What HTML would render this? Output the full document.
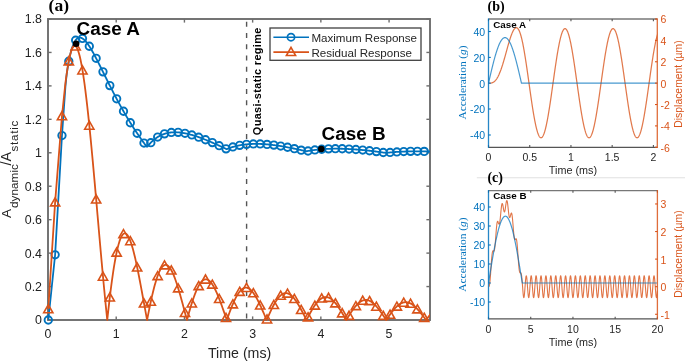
<!DOCTYPE html>
<html><head><meta charset="utf-8"><style>
html,body{margin:0;padding:0;background:#fff;}
svg{display:block;will-change:transform;font-family:"Liberation Sans", sans-serif;}
</style></head><body>
<svg width="685" height="361" viewBox="0 0 685 361">
<rect width="685" height="361" fill="#fff"/>
<defs><clipPath id="ca"><rect x="48.0" y="13.0" width="382.0" height="313.0"/></clipPath><clipPath id="cb"><rect x="488.5" y="19" width="168.8" height="128.3"/></clipPath><clipPath id="cc"><rect x="488.5" y="190.6" width="168.9" height="128.3"/></clipPath></defs>
<rect x="48.0" y="19.0" width="382.0" height="301.0" fill="none" stroke="#6e6e6e" stroke-width="1.9"/>
<line x1="48" y1="320.0" x2="48" y2="316.4" stroke="#6e6e6e" stroke-width="1.4"/>
<line x1="48" y1="19.0" x2="48" y2="22.6" stroke="#6e6e6e" stroke-width="1.4"/>
<text x="48" y="338.3" font-size="12.4" text-anchor="middle" fill="#222222">0</text>
<line x1="116.21" y1="320.0" x2="116.21" y2="316.4" stroke="#6e6e6e" stroke-width="1.4"/>
<line x1="116.21" y1="19.0" x2="116.21" y2="22.6" stroke="#6e6e6e" stroke-width="1.4"/>
<text x="116.21" y="338.3" font-size="12.4" text-anchor="middle" fill="#222222">1</text>
<line x1="184.43" y1="320.0" x2="184.43" y2="316.4" stroke="#6e6e6e" stroke-width="1.4"/>
<line x1="184.43" y1="19.0" x2="184.43" y2="22.6" stroke="#6e6e6e" stroke-width="1.4"/>
<text x="184.43" y="338.3" font-size="12.4" text-anchor="middle" fill="#222222">2</text>
<line x1="252.64" y1="320.0" x2="252.64" y2="316.4" stroke="#6e6e6e" stroke-width="1.4"/>
<line x1="252.64" y1="19.0" x2="252.64" y2="22.6" stroke="#6e6e6e" stroke-width="1.4"/>
<text x="252.64" y="338.3" font-size="12.4" text-anchor="middle" fill="#222222">3</text>
<line x1="320.86" y1="320.0" x2="320.86" y2="316.4" stroke="#6e6e6e" stroke-width="1.4"/>
<line x1="320.86" y1="19.0" x2="320.86" y2="22.6" stroke="#6e6e6e" stroke-width="1.4"/>
<text x="320.86" y="338.3" font-size="12.4" text-anchor="middle" fill="#222222">4</text>
<line x1="389.07" y1="320.0" x2="389.07" y2="316.4" stroke="#6e6e6e" stroke-width="1.4"/>
<line x1="389.07" y1="19.0" x2="389.07" y2="22.6" stroke="#6e6e6e" stroke-width="1.4"/>
<text x="389.07" y="338.3" font-size="12.4" text-anchor="middle" fill="#222222">5</text>
<line x1="48.0" y1="320" x2="51.6" y2="320" stroke="#6e6e6e" stroke-width="1.4"/>
<line x1="430.0" y1="320" x2="426.4" y2="320" stroke="#6e6e6e" stroke-width="1.4"/>
<text x="42" y="324.4" font-size="12.4" text-anchor="end" fill="#222222">0</text>
<line x1="48.0" y1="286.56" x2="51.6" y2="286.56" stroke="#6e6e6e" stroke-width="1.4"/>
<line x1="430.0" y1="286.56" x2="426.4" y2="286.56" stroke="#6e6e6e" stroke-width="1.4"/>
<text x="42" y="290.96" font-size="12.4" text-anchor="end" fill="#222222">0.2</text>
<line x1="48.0" y1="253.11" x2="51.6" y2="253.11" stroke="#6e6e6e" stroke-width="1.4"/>
<line x1="430.0" y1="253.11" x2="426.4" y2="253.11" stroke="#6e6e6e" stroke-width="1.4"/>
<text x="42" y="257.51" font-size="12.4" text-anchor="end" fill="#222222">0.4</text>
<line x1="48.0" y1="219.67" x2="51.6" y2="219.67" stroke="#6e6e6e" stroke-width="1.4"/>
<line x1="430.0" y1="219.67" x2="426.4" y2="219.67" stroke="#6e6e6e" stroke-width="1.4"/>
<text x="42" y="224.07" font-size="12.4" text-anchor="end" fill="#222222">0.6</text>
<line x1="48.0" y1="186.22" x2="51.6" y2="186.22" stroke="#6e6e6e" stroke-width="1.4"/>
<line x1="430.0" y1="186.22" x2="426.4" y2="186.22" stroke="#6e6e6e" stroke-width="1.4"/>
<text x="42" y="190.62" font-size="12.4" text-anchor="end" fill="#222222">0.8</text>
<line x1="48.0" y1="152.78" x2="51.6" y2="152.78" stroke="#6e6e6e" stroke-width="1.4"/>
<line x1="430.0" y1="152.78" x2="426.4" y2="152.78" stroke="#6e6e6e" stroke-width="1.4"/>
<text x="42" y="157.18" font-size="12.4" text-anchor="end" fill="#222222">1</text>
<line x1="48.0" y1="119.33" x2="51.6" y2="119.33" stroke="#6e6e6e" stroke-width="1.4"/>
<line x1="430.0" y1="119.33" x2="426.4" y2="119.33" stroke="#6e6e6e" stroke-width="1.4"/>
<text x="42" y="123.73" font-size="12.4" text-anchor="end" fill="#222222">1.2</text>
<line x1="48.0" y1="85.89" x2="51.6" y2="85.89" stroke="#6e6e6e" stroke-width="1.4"/>
<line x1="430.0" y1="85.89" x2="426.4" y2="85.89" stroke="#6e6e6e" stroke-width="1.4"/>
<text x="42" y="90.29" font-size="12.4" text-anchor="end" fill="#222222">1.4</text>
<line x1="48.0" y1="52.44" x2="51.6" y2="52.44" stroke="#6e6e6e" stroke-width="1.4"/>
<line x1="430.0" y1="52.44" x2="426.4" y2="52.44" stroke="#6e6e6e" stroke-width="1.4"/>
<text x="42" y="56.84" font-size="12.4" text-anchor="end" fill="#222222">1.6</text>
<line x1="48.0" y1="19" x2="51.6" y2="19" stroke="#6e6e6e" stroke-width="1.4"/>
<line x1="430.0" y1="19" x2="426.4" y2="19" stroke="#6e6e6e" stroke-width="1.4"/>
<text x="42" y="23.4" font-size="12.4" text-anchor="end" fill="#222222">1.8</text>
<line x1="246.6" y1="19.0" x2="246.6" y2="320.0" stroke="#555" stroke-width="1.4" stroke-dasharray="5 6.22" stroke-dashoffset="8.42"/>
<g clip-path="url(#ca)"><polyline fill="none" stroke="#0072BD" stroke-width="1.8" stroke-linejoin="round" points="48.3,320 55.13,254.78 61.97,135.55 65.39,86.87 66.07,79.92 66.75,73.99 67.44,69.13 68.12,65.01 68.8,61.27 69.49,57.88 70.17,54.82 70.86,52.07 71.54,49.62 72.22,47.45 72.91,45.53 73.59,43.86 74.27,42.42 74.96,41.2 75.64,40.18 76.32,39.34 77.01,38.68 77.69,38.19 78.37,37.84 79.06,37.64 79.74,37.57 80.42,37.63 81.11,37.8 81.79,38.07 82.47,38.45 83.16,38.91 83.84,39.47 84.53,40.09 85.21,40.8 85.89,41.57 86.58,42.4 87.26,43.29 87.94,44.23 88.63,45.22 89.31,46.25 89.99,47.32 90.68,48.43 91.36,49.58 92.04,50.75 92.73,51.95 93.41,53.18 94.09,54.43 94.78,55.7 95.46,56.99 96.14,58.3 96.83,59.62 97.51,60.95 98.2,62.29 98.88,63.64 99.56,65 100.25,66.37 100.93,67.74 101.61,69.11 102.3,70.49 102.98,71.87 103.66,73.25 104.35,74.63 105.03,76.01 105.71,77.39 106.4,78.77 107.08,80.14 107.76,81.51 108.45,82.87 109.13,84.24 109.81,85.59 110.5,86.95 111.18,88.29 111.87,89.63 112.55,90.96 113.23,92.29 113.92,93.61 114.6,94.92 115.28,96.23 115.97,97.52 116.65,98.81 117.33,100.09 118.02,101.36 118.7,102.63 119.38,103.88 120.07,105.13 120.75,106.37 121.43,107.6 122.12,108.82 122.8,110.03 123.48,111.23 124.17,112.42 124.85,113.6 125.54,114.78 126.22,115.94 126.9,117.1 127.59,118.24 128.27,119.38 128.95,120.51 129.64,121.63 130.32,122.74 131,123.84 131.69,124.93 132.37,126.01 133.05,127.08 133.74,128.15 134.42,129.2 135.1,130.25 135.79,131.28 136.47,132.31 137.15,133.33 137.84,134.34 138.52,135.34 139.21,136.34 139.89,137.32 140.57,138.3 141.26,139.26 141.94,140.23 142.62,141.18 143.31,142.12 143.99,143.05 144.67,143.98 145.36,144.9 146.04,145.81 146.72,146.71 147.41,146.63 148.09,145.77 148.77,144.95 149.46,144.16 150.14,143.4 150.82,142.67 151.51,141.98 152.19,141.32 152.88,140.69 153.56,140.09 154.24,139.52 154.93,138.98 155.61,138.46 156.29,137.97 156.98,137.5 157.66,137.06 158.34,136.64 159.03,136.24 159.71,135.87 160.39,135.52 161.08,135.19 161.76,134.89 162.44,134.6 163.13,134.33 163.81,134.08 164.5,133.85 165.18,133.63 165.86,133.44 166.55,133.26 167.23,133.1 167.91,132.95 168.6,132.82 169.28,132.7 169.96,132.6 170.65,132.51 171.33,132.44 172.01,132.37 172.7,132.33 173.38,132.29 174.06,132.27 174.75,132.26 175.43,132.26 176.11,132.27 176.8,132.29 177.48,132.32 178.16,132.37 178.85,132.42 179.53,132.48 180.22,132.56 180.9,132.64 181.58,132.73 182.27,132.83 182.95,132.93 183.63,133.05 184.32,133.17 185,133.3 185.68,133.44 186.37,133.58 187.05,133.73 187.73,133.89 188.42,134.06 189.1,134.22 189.78,134.4 190.47,134.58 191.15,134.77 191.83,134.97 192.52,135.16 193.2,135.37 193.89,135.58 194.57,135.79 195.25,136.01 195.94,136.23 196.62,136.46 197.3,136.69 197.99,136.93 198.67,137.17 199.35,137.41 200.04,137.66 200.72,137.91 201.4,138.17 202.09,138.42 202.77,138.69 203.45,138.95 204.14,139.22 204.82,139.49 205.5,139.76 206.19,140.03 206.87,140.31 207.56,140.59 208.24,140.88 208.92,141.16 209.61,141.45 210.29,141.74 210.97,142.03 211.66,142.33 212.34,142.62 213.02,142.92 213.71,143.22 214.39,143.52 215.07,143.83 215.76,144.13 216.44,144.44 217.12,144.74 217.81,145.05 218.49,145.36 219.18,145.67 219.86,145.98 220.54,146.3 221.23,146.61 221.91,146.93 222.59,147.25 223.28,147.56 223.96,147.88 224.64,148.2 225.33,148.52 226.01,148.84 226.69,149.1 227.38,148.83 228.06,148.57 228.74,148.32 229.43,148.07 230.11,147.83 230.79,147.6 231.48,147.38 232.16,147.17 232.84,146.97 233.53,146.77 234.21,146.58 234.9,146.4 235.58,146.23 236.26,146.06 236.95,145.9 237.63,145.75 238.31,145.61 239,145.47 239.68,145.34 240.36,145.21 241.05,145.09 241.73,144.98 242.41,144.87 243.1,144.77 243.78,144.68 244.46,144.59 245.15,144.51 245.83,144.43 246.51,144.36 247.2,144.3 247.88,144.24 248.57,144.18 249.25,144.13 249.93,144.09 250.62,144.05 251.3,144.01 251.98,143.98 252.67,143.96 253.35,143.94 254.03,143.92 254.72,143.91 255.4,143.9 256.08,143.9 256.77,143.9 257.45,143.91 258.13,143.92 258.82,143.93 259.5,143.95 260.19,143.97 260.87,144 261.55,144.02 262.24,144.05 262.92,144.09 263.6,144.13 264.29,144.17 264.97,144.22 265.65,144.27 266.34,144.32 267.02,144.38 267.7,144.44 268.39,144.5 269.07,144.56 269.75,144.63 270.44,144.71 271.12,144.78 271.8,144.85 272.49,144.93 273.17,145.02 273.85,145.1 274.54,145.19 275.22,145.28 275.91,145.37 276.59,145.46 277.27,145.57 277.96,145.66 278.64,145.76 279.32,145.87 280.01,145.97 280.69,146.08 281.37,146.19 282.06,146.3 282.74,146.42 283.42,146.54 284.11,146.65 284.79,146.77 285.47,146.9 286.16,147.02 286.84,147.14 287.52,147.27 288.21,147.41 288.89,147.53 289.58,147.66 290.26,147.8 290.94,147.94 291.63,148.07 292.31,148.21 292.99,148.36 293.68,148.5 294.36,148.64 295.04,148.79 295.73,148.93 296.41,149.08 297.09,149.23 297.78,149.38 298.46,149.53 299.14,149.68 299.83,149.83 300.51,149.99 301.19,150.15 301.88,150.3 302.56,150.46 303.25,150.63 303.93,150.78 304.61,150.94 305.3,151.11 305.98,151.27 306.66,151.25 307.35,151.12 308.03,150.99 308.71,150.87 309.4,150.76 310.08,150.65 310.76,150.53 311.45,150.43 312.13,150.33 312.81,150.23 313.5,150.14 314.18,150.04 314.87,149.95 315.55,149.87 316.23,149.79 316.92,149.71 317.6,149.63 318.28,149.56 318.97,149.5 319.65,149.44 320.33,149.37 321.02,149.31 321.7,149.25 322.38,149.2 323.07,149.15 323.75,149.1 324.43,149.06 325.12,149.02 325.8,148.97 326.48,148.94 327.17,148.91 327.85,148.88 328.53,148.84 329.22,148.82 329.9,148.8 330.59,148.77 331.27,148.75 331.95,148.74 332.64,148.73 333.32,148.71 334,148.7 334.69,148.7 335.37,148.69 336.05,148.69 336.74,148.7 337.42,148.69 338.1,148.69 338.79,148.71 339.47,148.71 340.15,148.72 340.84,148.74 341.52,148.75 342.2,148.76 342.89,148.79 343.57,148.8 344.26,148.82 344.94,148.86 345.62,148.87 346.31,148.9 346.99,148.94 347.67,148.96 348.36,149 349.04,149.03 349.72,149.07 350.41,149.11 351.09,149.15 351.77,149.19 352.46,149.24 353.14,149.28 353.82,149.33 354.51,149.37 355.19,149.42 355.88,149.48 356.56,149.52 357.24,149.58 357.93,149.63 358.61,149.69 359.29,149.75 359.98,149.8 360.66,149.87 361.34,149.93 362.03,149.99 362.71,150.06 363.39,150.12 364.08,150.2 364.76,150.26 365.44,150.33 366.13,150.4 366.81,150.47 367.49,150.55 368.18,150.62 368.86,150.7 369.55,150.77 370.23,150.85 370.91,150.93 371.6,151.01 372.28,151.09 372.96,151.17 373.65,151.26 374.33,151.34 375.01,151.43 375.7,151.51 376.38,151.6 377.06,151.69 377.75,151.78 378.43,151.87 379.11,151.96 379.8,152.05 380.48,152.14 381.16,152.24 381.85,152.33 382.53,152.43 383.22,152.52 383.9,152.62 384.58,152.71 385.27,152.82 385.95,152.88 386.63,152.8 387.32,152.74 388,152.66 388.68,152.59 389.37,152.53 390.05,152.46 390.73,152.4 391.42,152.34 392.1,152.28 392.78,152.23 393.47,152.16 394.15,152.11 394.83,152.06 395.52,152.01 396.2,151.97 396.88,151.92 397.57,151.87 398.25,151.84 398.94,151.79 399.62,151.76 400.3,151.71 400.99,151.68 401.67,151.65 402.35,151.61 403.04,151.59 403.72,151.55 404.4,151.53 405.09,151.5 405.77,151.48 406.45,151.46 407.14,151.44 407.82,151.43 408.5,151.4 409.19,151.39 409.87,151.37 410.55,151.36 411.24,151.35 411.92,151.34 412.61,151.33 413.29,151.32 413.97,151.33 414.66,151.31 415.34,151.32 416.02,151.31 416.71,151.31 417.39,151.31 418.07,151.32 418.76,151.32 419.44,151.32 420.12,151.33 420.81,151.34 421.49,151.35 422.17,151.36 422.86,151.37 423.54,151.38 424.22,151.4 424.91,151.41 425.59,151.43 426.28,151.44 426.96,151.47 427.64,151.48 428.33,151.51 429.01,151.52 429.69,151.56 430.38,151.57 431.06,151.61 431.74,151.62 432.43,151.66"/></g>
<circle cx="48.3" cy="320" r="3.7" fill="none" stroke="#0072BD" stroke-width="1.9"/>
<circle cx="55.13" cy="254.78" r="3.7" fill="none" stroke="#0072BD" stroke-width="1.9"/>
<circle cx="61.97" cy="135.55" r="3.7" fill="none" stroke="#0072BD" stroke-width="1.9"/>
<circle cx="68.8" cy="61.27" r="3.7" fill="none" stroke="#0072BD" stroke-width="1.9"/>
<circle cx="75.64" cy="40.18" r="3.7" fill="none" stroke="#0072BD" stroke-width="1.9"/>
<circle cx="82.47" cy="38.45" r="3.7" fill="none" stroke="#0072BD" stroke-width="1.9"/>
<circle cx="89.31" cy="46.25" r="3.7" fill="none" stroke="#0072BD" stroke-width="1.9"/>
<circle cx="96.14" cy="58.3" r="3.7" fill="none" stroke="#0072BD" stroke-width="1.9"/>
<circle cx="102.98" cy="71.87" r="3.7" fill="none" stroke="#0072BD" stroke-width="1.9"/>
<circle cx="109.81" cy="85.59" r="3.7" fill="none" stroke="#0072BD" stroke-width="1.9"/>
<circle cx="116.65" cy="98.81" r="3.7" fill="none" stroke="#0072BD" stroke-width="1.9"/>
<circle cx="123.48" cy="111.23" r="3.7" fill="none" stroke="#0072BD" stroke-width="1.9"/>
<circle cx="130.32" cy="122.74" r="3.7" fill="none" stroke="#0072BD" stroke-width="1.9"/>
<circle cx="137.15" cy="133.33" r="3.7" fill="none" stroke="#0072BD" stroke-width="1.9"/>
<circle cx="143.99" cy="143.05" r="3.7" fill="none" stroke="#0072BD" stroke-width="1.9"/>
<circle cx="150.82" cy="142.67" r="3.7" fill="none" stroke="#0072BD" stroke-width="1.9"/>
<circle cx="157.66" cy="137.06" r="3.7" fill="none" stroke="#0072BD" stroke-width="1.9"/>
<circle cx="164.5" cy="133.85" r="3.7" fill="none" stroke="#0072BD" stroke-width="1.9"/>
<circle cx="171.33" cy="132.44" r="3.7" fill="none" stroke="#0072BD" stroke-width="1.9"/>
<circle cx="178.16" cy="132.37" r="3.7" fill="none" stroke="#0072BD" stroke-width="1.9"/>
<circle cx="185" cy="133.3" r="3.7" fill="none" stroke="#0072BD" stroke-width="1.9"/>
<circle cx="191.83" cy="134.97" r="3.7" fill="none" stroke="#0072BD" stroke-width="1.9"/>
<circle cx="198.67" cy="137.17" r="3.7" fill="none" stroke="#0072BD" stroke-width="1.9"/>
<circle cx="205.5" cy="139.76" r="3.7" fill="none" stroke="#0072BD" stroke-width="1.9"/>
<circle cx="212.34" cy="142.62" r="3.7" fill="none" stroke="#0072BD" stroke-width="1.9"/>
<circle cx="219.18" cy="145.67" r="3.7" fill="none" stroke="#0072BD" stroke-width="1.9"/>
<circle cx="226.01" cy="148.84" r="3.7" fill="none" stroke="#0072BD" stroke-width="1.9"/>
<circle cx="232.84" cy="146.97" r="3.7" fill="none" stroke="#0072BD" stroke-width="1.9"/>
<circle cx="239.68" cy="145.34" r="3.7" fill="none" stroke="#0072BD" stroke-width="1.9"/>
<circle cx="246.51" cy="144.36" r="3.7" fill="none" stroke="#0072BD" stroke-width="1.9"/>
<circle cx="253.35" cy="143.94" r="3.7" fill="none" stroke="#0072BD" stroke-width="1.9"/>
<circle cx="260.19" cy="143.97" r="3.7" fill="none" stroke="#0072BD" stroke-width="1.9"/>
<circle cx="267.02" cy="144.38" r="3.7" fill="none" stroke="#0072BD" stroke-width="1.9"/>
<circle cx="273.85" cy="145.1" r="3.7" fill="none" stroke="#0072BD" stroke-width="1.9"/>
<circle cx="280.69" cy="146.08" r="3.7" fill="none" stroke="#0072BD" stroke-width="1.9"/>
<circle cx="287.52" cy="147.27" r="3.7" fill="none" stroke="#0072BD" stroke-width="1.9"/>
<circle cx="294.36" cy="148.64" r="3.7" fill="none" stroke="#0072BD" stroke-width="1.9"/>
<circle cx="301.19" cy="150.15" r="3.7" fill="none" stroke="#0072BD" stroke-width="1.9"/>
<circle cx="308.03" cy="150.99" r="3.7" fill="none" stroke="#0072BD" stroke-width="1.9"/>
<circle cx="314.87" cy="149.95" r="3.7" fill="none" stroke="#0072BD" stroke-width="1.9"/>
<circle cx="321.7" cy="149.25" r="3.7" fill="none" stroke="#0072BD" stroke-width="1.9"/>
<circle cx="328.53" cy="148.84" r="3.7" fill="none" stroke="#0072BD" stroke-width="1.9"/>
<circle cx="335.37" cy="148.69" r="3.7" fill="none" stroke="#0072BD" stroke-width="1.9"/>
<circle cx="342.2" cy="148.76" r="3.7" fill="none" stroke="#0072BD" stroke-width="1.9"/>
<circle cx="349.04" cy="149.03" r="3.7" fill="none" stroke="#0072BD" stroke-width="1.9"/>
<circle cx="355.88" cy="149.48" r="3.7" fill="none" stroke="#0072BD" stroke-width="1.9"/>
<circle cx="362.71" cy="150.06" r="3.7" fill="none" stroke="#0072BD" stroke-width="1.9"/>
<circle cx="369.55" cy="150.77" r="3.7" fill="none" stroke="#0072BD" stroke-width="1.9"/>
<circle cx="376.38" cy="151.6" r="3.7" fill="none" stroke="#0072BD" stroke-width="1.9"/>
<circle cx="383.22" cy="152.52" r="3.7" fill="none" stroke="#0072BD" stroke-width="1.9"/>
<circle cx="390.05" cy="152.46" r="3.7" fill="none" stroke="#0072BD" stroke-width="1.9"/>
<circle cx="396.88" cy="151.92" r="3.7" fill="none" stroke="#0072BD" stroke-width="1.9"/>
<circle cx="403.72" cy="151.55" r="3.7" fill="none" stroke="#0072BD" stroke-width="1.9"/>
<circle cx="410.55" cy="151.36" r="3.7" fill="none" stroke="#0072BD" stroke-width="1.9"/>
<circle cx="417.39" cy="151.31" r="3.7" fill="none" stroke="#0072BD" stroke-width="1.9"/>
<circle cx="424.22" cy="151.4" r="3.7" fill="none" stroke="#0072BD" stroke-width="1.9"/>
<g clip-path="url(#ca)"><polyline fill="none" stroke="#D95319" stroke-width="1.8" stroke-linejoin="round" points="48.3,308.96 55.13,202.11 61.97,115.99 65.39,83.43 66.07,78.18 66.75,73.31 67.44,68.82 68.12,64.73 68.8,61.03 69.49,57.73 70.17,54.83 70.86,52.34 71.54,50.25 72.22,48.56 72.91,47.29 73.59,46.42 74.27,45.95 74.96,45.88 75.64,46.21 76.32,46.94 77.01,48.05 77.69,49.55 78.37,51.42 79.06,53.67 79.74,56.28 80.42,59.24 81.11,62.56 81.79,66.2 82.47,70.18 83.16,74.48 83.84,79.08 84.53,83.97 85.21,89.15 85.89,94.59 86.58,100.3 87.26,106.24 87.94,112.42 88.63,118.82 89.31,125.41 89.99,132.2 90.68,139.15 91.36,146.27 92.04,153.52 92.73,160.9 93.41,168.4 94.09,175.99 94.78,183.66 95.46,191.39 96.14,199.18 96.83,206.99 97.51,214.83 98.2,222.67 98.88,230.5 99.56,238.29 100.25,246.05 100.93,253.75 101.61,261.38 102.3,268.93 102.98,276.38 103.66,283.72 104.35,290.93 105.03,298 105.71,304.93 106.4,311.7 107.08,318.29 107.26,320 107.76,315.29 108.45,309.07 109.13,303.05 109.81,297.24 110.5,291.65 111.18,286.28 111.87,281.15 112.55,276.27 113.23,271.62 113.92,267.23 114.6,263.1 115.28,259.23 115.97,255.62 116.65,252.28 117.33,249.21 118.02,246.42 118.7,243.89 119.38,241.64 120.07,239.66 120.75,237.96 121.43,236.52 122.12,235.36 122.8,234.46 123.48,233.83 124.17,233.45 124.85,233.33 125.54,233.46 126.22,233.83 126.9,234.45 127.59,235.3 128.27,236.37 128.95,237.67 129.64,239.17 130.32,240.88 131,242.79 131.69,244.88 132.37,247.15 133.05,249.59 133.74,252.18 134.42,254.93 135.1,257.82 135.79,260.83 136.47,263.97 137.15,267.21 137.84,270.55 138.52,273.97 139.21,277.48 139.89,281.04 140.57,284.67 141.26,288.33 141.94,292.03 142.62,295.75 143.31,299.49 143.99,303.22 144.67,306.95 145.36,310.65 146.04,314.33 146.72,317.97 147.11,320 147.41,318.44 148.09,314.91 148.77,311.44 149.46,308.05 150.14,304.74 150.82,301.52 151.51,298.4 152.19,295.39 152.88,292.48 153.56,289.7 154.24,287.05 154.93,284.52 155.61,282.13 156.29,279.89 156.98,277.79 157.66,275.83 158.34,274.03 159.03,272.39 159.71,270.91 160.39,269.58 161.08,268.42 161.76,267.42 162.44,266.59 163.13,265.92 163.81,265.41 164.5,265.07 165.18,264.89 165.86,264.87 166.55,265.01 167.23,265.31 167.91,265.76 168.6,266.37 169.28,267.12 169.96,268.01 170.65,269.05 171.33,270.21 172.01,271.51 172.7,272.94 173.38,274.48 174.06,276.14 174.75,277.9 175.43,279.77 176.11,281.73 176.8,283.78 177.48,285.91 178.16,288.12 178.85,290.4 179.53,292.73 180.22,295.12 180.9,297.56 181.58,300.03 182.27,302.54 182.95,305.07 183.63,307.61 184.32,310.17 185,312.73 185.68,315.28 186.37,317.82 186.96,320 187.05,319.66 187.73,317.17 188.42,314.71 189.1,312.29 189.78,309.91 190.47,307.59 191.15,305.33 191.83,303.13 192.52,301 193.2,298.95 193.89,296.98 194.57,295.09 195.25,293.3 195.94,291.6 196.62,289.99 197.3,288.49 197.99,287.1 198.67,285.81 199.35,284.63 200.04,283.57 200.72,282.62 201.4,281.79 202.09,281.07 202.77,280.48 203.45,280 204.14,279.64 204.82,279.41 205.5,279.29 206.19,279.29 206.87,279.41 207.56,279.65 208.24,280 208.92,280.46 209.61,281.03 210.29,281.72 210.97,282.5 211.66,283.39 212.34,284.37 213.02,285.45 213.71,286.62 214.39,287.88 215.07,289.22 215.76,290.64 216.44,292.13 217.12,293.69 217.81,295.31 218.49,296.99 219.18,298.72 219.86,300.5 220.54,302.32 221.23,304.18 221.91,306.07 222.59,307.98 223.28,309.92 223.96,311.87 224.64,313.82 225.33,315.78 226.01,317.73 226.69,319.68 226.81,320 227.38,318.39 228.06,316.48 228.74,314.59 229.43,312.73 230.11,310.91 230.79,309.13 231.48,307.39 232.16,305.7 232.84,304.07 233.53,302.5 234.21,300.98 234.9,299.54 235.58,298.16 236.26,296.86 236.95,295.63 237.63,294.49 238.31,293.42 239,292.44 239.68,291.55 240.36,290.75 241.05,290.03 241.73,289.41 242.41,288.88 243.1,288.44 243.78,288.1 244.46,287.86 245.15,287.71 245.83,287.65 246.51,287.69 247.2,287.82 247.88,288.04 248.57,288.35 249.25,288.75 249.93,289.24 250.62,289.82 251.3,290.48 251.98,291.22 252.67,292.04 253.35,292.93 254.03,293.9 254.72,294.93 255.4,296.03 256.08,297.2 256.77,298.42 257.45,299.69 258.13,301.02 258.82,302.39 259.5,303.8 260.19,305.25 260.87,306.74 261.55,308.25 262.24,309.79 262.92,311.35 263.6,312.92 264.29,314.5 264.97,316.09 265.65,317.68 266.34,319.26 266.65,320 267.02,319.16 267.7,317.59 268.39,316.04 269.07,314.52 269.75,313.01 270.44,311.54 271.12,310.1 271.8,308.7 272.49,307.34 273.17,306.02 273.85,304.76 274.54,303.54 275.22,302.38 275.91,301.28 276.59,300.24 277.27,299.26 277.96,298.35 278.64,297.51 279.32,296.73 280.01,296.03 280.69,295.4 281.37,294.85 282.06,294.37 282.74,293.98 283.42,293.65 284.11,293.41 284.79,293.24 285.47,293.16 286.16,293.15 286.84,293.22 287.52,293.36 288.21,293.58 288.89,293.88 289.58,294.25 290.26,294.7 290.94,295.21 291.63,295.79 292.31,296.44 292.99,297.16 293.68,297.93 294.36,298.77 295.04,299.66 295.73,300.61 296.41,301.61 297.09,302.65 297.78,303.74 298.46,304.87 299.14,306.04 299.83,307.24 300.51,308.48 301.19,309.74 301.88,311.02 302.56,312.32 303.25,313.64 303.93,314.96 304.61,316.3 305.3,317.64 305.98,318.98 306.5,320 306.66,319.69 307.35,318.36 308.03,317.05 308.71,315.75 309.4,314.47 310.08,313.21 310.76,311.98 311.45,310.78 312.13,309.61 312.81,308.48 313.5,307.39 314.18,306.34 314.87,305.33 315.55,304.37 316.23,303.47 316.92,302.61 317.6,301.81 318.28,301.07 318.97,300.38 319.65,299.76 320.33,299.19 321.02,298.69 321.7,298.26 322.38,297.89 323.07,297.58 323.75,297.34 324.43,297.17 325.12,297.07 325.8,297.03 326.48,297.06 327.17,297.15 327.85,297.32 328.53,297.54 329.22,297.83 329.9,298.18 330.59,298.6 331.27,299.07 331.95,299.6 332.64,300.19 333.32,300.84 334,301.53 334.69,302.28 335.37,303.07 336.05,303.91 336.74,304.79 337.42,305.71 338.1,306.67 338.79,307.67 339.47,308.69 340.15,309.74 340.84,310.82 341.52,311.91 342.2,313.03 342.89,314.16 343.57,315.3 344.26,316.45 344.94,317.61 345.62,318.77 346.31,319.92 346.35,320 346.99,318.93 347.67,317.78 348.36,316.65 349.04,315.54 349.72,314.44 350.41,313.36 351.09,312.31 351.77,311.29 352.46,310.29 353.14,309.33 353.82,308.4 354.51,307.51 355.19,306.66 355.88,305.85 356.56,305.09 357.24,304.37 357.93,303.71 358.61,303.09 359.29,302.52 359.98,302.01 360.66,301.55 361.34,301.15 362.03,300.8 362.71,300.51 363.39,300.28 364.08,300.11 364.76,299.99 365.44,299.94 366.13,299.94 366.81,300 367.49,300.12 368.18,300.29 368.86,300.52 369.55,300.81 370.23,301.15 370.91,301.54 371.6,301.99 372.28,302.48 372.96,303.03 373.65,303.62 374.33,304.26 375.01,304.93 375.7,305.66 376.38,306.41 377.06,307.21 377.75,308.04 378.43,308.9 379.11,309.79 379.8,310.7 380.48,311.64 381.16,312.59 381.85,313.57 382.53,314.56 383.22,315.56 383.9,316.57 384.58,317.59 385.27,318.61 385.95,319.63 386.2,320 386.63,319.36 387.32,318.35 388,317.35 388.68,316.36 389.37,315.38 390.05,314.43 390.73,313.49 391.42,312.57 392.1,311.68 392.78,310.82 393.47,309.99 394.15,309.19 394.83,308.42 395.52,307.7 396.2,307.01 396.88,306.36 397.57,305.75 398.25,305.18 398.94,304.66 399.62,304.19 400.3,303.77 400.99,303.39 401.67,303.06 402.35,302.79 403.04,302.56 403.72,302.39 404.4,302.27 405.09,302.2 405.77,302.18 406.45,302.21 407.14,302.3 407.82,302.43 408.5,302.62 409.19,302.85 409.87,303.14 410.55,303.47 411.24,303.85 411.92,304.27 412.61,304.74 413.29,305.25 413.97,305.8 414.66,306.39 415.34,307.02 416.02,307.69 416.71,308.38 417.39,309.11 418.07,309.86 418.76,310.65 419.44,311.45 420.12,312.28 420.81,313.13 421.49,314 422.17,314.88 422.86,315.77 423.54,316.67 424.22,317.57 424.91,318.48 425.59,319.39 426.05,320 426.28,319.7 426.96,318.79 427.64,317.89 428.33,317.01 429.01,316.13 429.69,315.27 430.38,314.42 431.06,313.59 431.74,312.79 432.43,312.01"/></g>
<path d="M48.3,304.66 L52.9,312.76 L43.7,312.76 Z" fill="none" stroke="#D95319" stroke-width="1.6" stroke-linejoin="miter"/>
<path d="M55.13,197.81 L59.73,205.91 L50.53,205.91 Z" fill="none" stroke="#D95319" stroke-width="1.6" stroke-linejoin="miter"/>
<path d="M61.97,111.69 L66.57,119.79 L57.37,119.79 Z" fill="none" stroke="#D95319" stroke-width="1.6" stroke-linejoin="miter"/>
<path d="M68.8,56.73 L73.4,64.83 L64.2,64.83 Z" fill="none" stroke="#D95319" stroke-width="1.6" stroke-linejoin="miter"/>
<path d="M75.64,41.91 L80.24,50.01 L71.04,50.01 Z" fill="none" stroke="#D95319" stroke-width="1.6" stroke-linejoin="miter"/>
<path d="M82.47,65.88 L87.07,73.98 L77.88,73.98 Z" fill="none" stroke="#D95319" stroke-width="1.6" stroke-linejoin="miter"/>
<path d="M89.31,121.11 L93.91,129.21 L84.71,129.21 Z" fill="none" stroke="#D95319" stroke-width="1.6" stroke-linejoin="miter"/>
<path d="M96.14,194.88 L100.74,202.98 L91.54,202.98 Z" fill="none" stroke="#D95319" stroke-width="1.6" stroke-linejoin="miter"/>
<path d="M102.98,272.08 L107.58,280.18 L98.38,280.18 Z" fill="none" stroke="#D95319" stroke-width="1.6" stroke-linejoin="miter"/>
<path d="M109.81,292.94 L114.41,301.04 L105.22,301.04 Z" fill="none" stroke="#D95319" stroke-width="1.6" stroke-linejoin="miter"/>
<path d="M116.65,247.98 L121.25,256.08 L112.05,256.08 Z" fill="none" stroke="#D95319" stroke-width="1.6" stroke-linejoin="miter"/>
<path d="M123.48,229.53 L128.09,237.63 L118.89,237.63 Z" fill="none" stroke="#D95319" stroke-width="1.6" stroke-linejoin="miter"/>
<path d="M130.32,236.58 L134.92,244.68 L125.72,244.68 Z" fill="none" stroke="#D95319" stroke-width="1.6" stroke-linejoin="miter"/>
<path d="M137.15,262.91 L141.75,271.01 L132.55,271.01 Z" fill="none" stroke="#D95319" stroke-width="1.6" stroke-linejoin="miter"/>
<path d="M143.99,298.92 L148.59,307.02 L139.39,307.02 Z" fill="none" stroke="#D95319" stroke-width="1.6" stroke-linejoin="miter"/>
<path d="M150.82,297.22 L155.42,305.32 L146.22,305.32 Z" fill="none" stroke="#D95319" stroke-width="1.6" stroke-linejoin="miter"/>
<path d="M157.66,271.53 L162.26,279.63 L153.06,279.63 Z" fill="none" stroke="#D95319" stroke-width="1.6" stroke-linejoin="miter"/>
<path d="M164.5,260.77 L169.09,268.87 L159.9,268.87 Z" fill="none" stroke="#D95319" stroke-width="1.6" stroke-linejoin="miter"/>
<path d="M171.33,265.91 L175.93,274.01 L166.73,274.01 Z" fill="none" stroke="#D95319" stroke-width="1.6" stroke-linejoin="miter"/>
<path d="M178.16,283.82 L182.76,291.92 L173.56,291.92 Z" fill="none" stroke="#D95319" stroke-width="1.6" stroke-linejoin="miter"/>
<path d="M185,308.43 L189.6,316.53 L180.4,316.53 Z" fill="none" stroke="#D95319" stroke-width="1.6" stroke-linejoin="miter"/>
<path d="M191.83,298.83 L196.43,306.93 L187.23,306.93 Z" fill="none" stroke="#D95319" stroke-width="1.6" stroke-linejoin="miter"/>
<path d="M198.67,281.51 L203.27,289.61 L194.07,289.61 Z" fill="none" stroke="#D95319" stroke-width="1.6" stroke-linejoin="miter"/>
<path d="M205.5,274.99 L210.1,283.09 L200.91,283.09 Z" fill="none" stroke="#D95319" stroke-width="1.6" stroke-linejoin="miter"/>
<path d="M212.34,280.07 L216.94,288.17 L207.74,288.17 Z" fill="none" stroke="#D95319" stroke-width="1.6" stroke-linejoin="miter"/>
<path d="M219.18,294.42 L223.78,302.52 L214.58,302.52 Z" fill="none" stroke="#D95319" stroke-width="1.6" stroke-linejoin="miter"/>
<path d="M226.01,313.43 L230.61,321.53 L221.41,321.53 Z" fill="none" stroke="#D95319" stroke-width="1.6" stroke-linejoin="miter"/>
<path d="M232.84,299.77 L237.44,307.87 L228.24,307.87 Z" fill="none" stroke="#D95319" stroke-width="1.6" stroke-linejoin="miter"/>
<path d="M239.68,287.25 L244.28,295.35 L235.08,295.35 Z" fill="none" stroke="#D95319" stroke-width="1.6" stroke-linejoin="miter"/>
<path d="M246.51,283.39 L251.11,291.49 L241.91,291.49 Z" fill="none" stroke="#D95319" stroke-width="1.6" stroke-linejoin="miter"/>
<path d="M253.35,288.63 L257.95,296.73 L248.75,296.73 Z" fill="none" stroke="#D95319" stroke-width="1.6" stroke-linejoin="miter"/>
<path d="M260.19,300.95 L264.79,309.05 L255.59,309.05 Z" fill="none" stroke="#D95319" stroke-width="1.6" stroke-linejoin="miter"/>
<path d="M267.02,314.86 L271.62,322.96 L262.42,322.96 Z" fill="none" stroke="#D95319" stroke-width="1.6" stroke-linejoin="miter"/>
<path d="M273.85,300.46 L278.45,308.56 L269.25,308.56 Z" fill="none" stroke="#D95319" stroke-width="1.6" stroke-linejoin="miter"/>
<path d="M280.69,291.1 L285.29,299.2 L276.09,299.2 Z" fill="none" stroke="#D95319" stroke-width="1.6" stroke-linejoin="miter"/>
<path d="M287.52,289.06 L292.12,297.16 L282.92,297.16 Z" fill="none" stroke="#D95319" stroke-width="1.6" stroke-linejoin="miter"/>
<path d="M294.36,294.47 L298.96,302.57 L289.76,302.57 Z" fill="none" stroke="#D95319" stroke-width="1.6" stroke-linejoin="miter"/>
<path d="M301.19,305.44 L305.8,313.54 L296.59,313.54 Z" fill="none" stroke="#D95319" stroke-width="1.6" stroke-linejoin="miter"/>
<path d="M308.03,312.75 L312.63,320.85 L303.43,320.85 Z" fill="none" stroke="#D95319" stroke-width="1.6" stroke-linejoin="miter"/>
<path d="M314.87,301.03 L319.47,309.13 L310.26,309.13 Z" fill="none" stroke="#D95319" stroke-width="1.6" stroke-linejoin="miter"/>
<path d="M321.7,293.96 L326.3,302.06 L317.1,302.06 Z" fill="none" stroke="#D95319" stroke-width="1.6" stroke-linejoin="miter"/>
<path d="M328.53,293.24 L333.13,301.34 L323.93,301.34 Z" fill="none" stroke="#D95319" stroke-width="1.6" stroke-linejoin="miter"/>
<path d="M335.37,298.77 L339.97,306.87 L330.77,306.87 Z" fill="none" stroke="#D95319" stroke-width="1.6" stroke-linejoin="miter"/>
<path d="M342.2,308.73 L346.81,316.83 L337.6,316.83 Z" fill="none" stroke="#D95319" stroke-width="1.6" stroke-linejoin="miter"/>
<path d="M349.04,311.24 L353.64,319.34 L344.44,319.34 Z" fill="none" stroke="#D95319" stroke-width="1.6" stroke-linejoin="miter"/>
<path d="M355.88,301.55 L360.48,309.65 L351.27,309.65 Z" fill="none" stroke="#D95319" stroke-width="1.6" stroke-linejoin="miter"/>
<path d="M362.71,296.21 L367.31,304.31 L358.11,304.31 Z" fill="none" stroke="#D95319" stroke-width="1.6" stroke-linejoin="miter"/>
<path d="M369.55,296.51 L374.15,304.61 L364.94,304.61 Z" fill="none" stroke="#D95319" stroke-width="1.6" stroke-linejoin="miter"/>
<path d="M376.38,302.11 L380.98,310.21 L371.78,310.21 Z" fill="none" stroke="#D95319" stroke-width="1.6" stroke-linejoin="miter"/>
<path d="M383.22,311.26 L387.82,319.36 L378.62,319.36 Z" fill="none" stroke="#D95319" stroke-width="1.6" stroke-linejoin="miter"/>
<path d="M390.05,310.13 L394.65,318.23 L385.45,318.23 Z" fill="none" stroke="#D95319" stroke-width="1.6" stroke-linejoin="miter"/>
<path d="M396.88,302.06 L401.48,310.16 L392.28,310.16 Z" fill="none" stroke="#D95319" stroke-width="1.6" stroke-linejoin="miter"/>
<path d="M403.72,298.09 L408.32,306.19 L399.12,306.19 Z" fill="none" stroke="#D95319" stroke-width="1.6" stroke-linejoin="miter"/>
<path d="M410.55,299.17 L415.15,307.27 L405.95,307.27 Z" fill="none" stroke="#D95319" stroke-width="1.6" stroke-linejoin="miter"/>
<path d="M417.39,304.81 L421.99,312.91 L412.79,312.91 Z" fill="none" stroke="#D95319" stroke-width="1.6" stroke-linejoin="miter"/>
<path d="M424.22,313.27 L428.82,321.37 L419.62,321.37 Z" fill="none" stroke="#D95319" stroke-width="1.6" stroke-linejoin="miter"/>
<circle cx="76.1" cy="43.8" r="3.3" fill="#000"/>
<circle cx="321.3" cy="149.0" r="3.3" fill="#000"/>
<text x="239.6" y="357.5" font-size="14.2" text-anchor="middle" fill="#262626">Time (ms)</text>
<text x="48.6" y="10.9" font-family='"Liberation Serif", serif' font-weight="bold" font-size="17.5" fill="#000">(a)</text>
<text x="76.6" y="35.1" font-size="18.9" font-weight="bold" fill="#000">Case A</text>
<text x="321.6" y="140.0" font-size="18.9" font-weight="bold" fill="#000">Case B</text>
<g transform="translate(11.3,218) rotate(-90)" fill="#262626"><text x="0" y="0" font-size="13.6">A</text><text x="9.9" y="6.4" font-size="11.6" textLength="44">dynamic</text><text x="52.6" y="0" font-size="14.4">/A</text><text x="66.6" y="6.4" font-size="11.6" textLength="30.8">static</text></g>
<text transform="translate(260.6,135.2) rotate(-90)" font-size="10.9" textLength="107.5" font-weight="bold" fill="#000">Quasi-static regime</text>
<rect x="270" y="28" width="151" height="32.3" fill="#fff" stroke="#404040" stroke-width="1.3"/>
<line x1="273.4" y1="37.2" x2="309" y2="37.2" stroke="#0072BD" stroke-width="1.6"/>
<circle cx="291" cy="37.2" r="3.6" fill="none" stroke="#0072BD" stroke-width="1.7"/>
<line x1="273.4" y1="52.1" x2="309" y2="52.1" stroke="#D95319" stroke-width="1.6"/>
<path d="M291,47.4 L295.6,55.5 L286.4,55.5 Z" fill="none" stroke="#D95319" stroke-width="1.6"/>
<text x="311.4" y="42" font-size="11.6" fill="#262626">Maximum Response</text>
<text x="311.4" y="56.9" font-size="11.6" fill="#262626">Residual Response</text>
<g clip-path="url(#cb)">
<polyline fill="none" stroke="#D95319" stroke-width="1.25" stroke-opacity="0.78" points="488.5,83.2 488.71,83.2 488.91,83.2 489.12,83.2 489.32,83.2 489.53,83.19 489.74,83.18 489.94,83.17 490.15,83.16 490.36,83.15 490.56,83.12 490.77,83.1 490.97,83.07 491.18,83.04 491.39,82.99 491.59,82.95 491.8,82.89 492,82.83 492.21,82.77 492.42,82.69 492.62,82.61 492.83,82.52 493.03,82.42 493.24,82.31 493.45,82.19 493.65,82.06 493.86,81.92 494.07,81.77 494.27,81.61 494.48,81.44 494.68,81.26 494.89,81.06 495.1,80.86 495.3,80.64 495.51,80.41 495.71,80.17 495.92,79.92 496.13,79.65 496.33,79.37 496.54,79.08 496.75,78.77 496.95,78.46 497.16,78.12 497.36,77.78 497.57,77.42 497.78,77.05 497.98,76.66 498.19,76.27 498.39,75.85 498.6,75.43 498.81,74.99 499.01,74.54 499.22,74.07 499.42,73.6 499.63,73.11 499.84,72.6 500.04,72.08 500.25,71.56 500.46,71.01 500.66,70.46 500.87,69.9 501.07,69.32 501.28,68.73 501.49,68.13 501.69,67.52 501.9,66.9 502.1,66.27 502.31,65.63 502.52,64.98 502.72,64.31 502.93,63.65 503.13,62.97 503.34,62.28 503.55,61.59 503.75,60.89 503.96,60.18 504.17,59.47 504.37,58.75 504.58,58.02 504.78,57.3 504.99,56.56 505.2,55.82 505.4,55.08 505.61,54.34 505.81,53.6 506.02,52.85 506.23,52.1 506.43,51.35 506.64,50.61 506.85,49.86 507.05,49.11 507.26,48.37 507.46,47.63 507.67,46.89 507.88,46.16 508.08,45.43 508.29,44.71 508.49,43.99 508.7,43.28 508.91,42.58 509.11,41.88 509.32,41.19 509.52,40.52 509.73,39.85 509.94,39.19 510.14,38.55 510.35,37.91 510.56,37.29 510.76,36.69 510.97,36.1 511.17,35.52 511.38,34.95 511.59,34.41 511.79,33.88 512,33.37 512.2,32.87 512.41,32.4 512.62,31.94 512.82,31.51 513.03,31.09 513.24,30.7 513.44,30.32 513.65,29.97 513.85,29.65 514.06,29.34 514.27,29.06 514.47,28.81 514.68,28.58 514.88,28.38 515.09,28.2 515.3,28.05 515.5,27.93 515.71,27.83 515.91,27.76 516.12,27.73 516.33,27.72 516.53,27.74 516.74,27.79 516.95,27.87 517.15,27.98 517.36,28.12 517.56,28.29 517.77,28.49 517.98,28.73 518.18,29 518.39,29.3 518.59,29.63 518.8,29.99 519.01,30.39 519.21,30.82 519.42,31.29 519.62,31.79 519.83,32.32 520.04,32.88 520.24,33.48 520.45,34.11 520.66,34.77 520.86,35.47 521.07,36.2 521.27,36.97 521.48,37.77 521.69,38.6 521.89,39.46 522.1,40.35 522.3,41.28 522.51,42.24 522.72,43.22 522.92,44.24 523.13,45.28 523.34,46.35 523.54,47.45 523.75,48.57 523.95,49.72 524.16,50.9 524.37,52.09 524.57,53.31 524.78,54.56 524.98,55.82 525.19,57.1 525.4,58.4 525.6,59.72 525.81,61.06 526.01,62.41 526.22,63.78 526.43,65.16 526.63,66.55 526.84,67.96 527.05,69.38 527.25,70.81 527.46,72.24 527.66,73.69 527.87,75.14 528.08,76.6 528.28,78.06 528.49,79.53 528.69,80.99 528.9,82.46 529.11,83.94 529.31,85.41 529.52,86.87 529.73,88.34 529.93,89.8 530.14,91.26 530.34,92.71 530.55,94.16 530.76,95.59 530.96,97.02 531.17,98.44 531.37,99.85 531.58,101.24 531.79,102.62 531.99,103.99 532.2,105.34 532.4,106.68 532.61,108 532.82,109.3 533.02,110.58 533.23,111.84 533.44,113.09 533.64,114.31 533.85,115.5 534.05,116.68 534.26,117.83 534.47,118.95 534.67,120.05 534.88,121.12 535.08,122.16 535.29,123.18 535.5,124.16 535.7,125.12 535.91,126.05 536.11,126.94 536.32,127.8 536.53,128.63 536.73,129.43 536.94,130.2 537.15,130.93 537.35,131.62 537.56,132.28 537.76,132.91 537.97,133.49 538.18,134.04 538.38,134.56 538.59,135.04 538.79,135.48 539,135.88 539.21,136.24 539.41,136.56 539.62,136.85 539.83,137.1 540.03,137.3 540.24,137.47 540.44,137.6 540.65,137.69 540.86,137.74 541.06,137.75 541.27,137.72 541.47,137.65 541.68,137.54 541.89,137.39 542.09,137.21 542.3,136.98 542.5,136.71 542.71,136.41 542.92,136.06 543.12,135.68 543.33,135.26 543.54,134.8 543.74,134.31 543.95,133.77 544.15,133.2 544.36,132.6 544.57,131.96 544.77,131.28 544.98,130.57 545.18,129.82 545.39,129.04 545.6,128.22 545.8,127.38 546.01,126.5 546.22,125.59 546.42,124.65 546.63,123.67 546.83,122.67 547.04,121.64 547.25,120.59 547.45,119.5 547.66,118.39 547.86,117.25 548.07,116.09 548.28,114.91 548.48,113.7 548.69,112.47 548.89,111.22 549.1,109.94 549.31,108.65 549.51,107.34 549.72,106.01 549.93,104.67 550.13,103.31 550.34,101.93 550.54,100.55 550.75,99.15 550.96,97.73 551.16,96.31 551.37,94.88 551.57,93.44 551.78,91.99 551.99,90.53 552.19,89.07 552.4,87.61 552.6,86.14 552.81,84.67 553.02,83.2 553.22,81.73 553.43,80.26 553.64,78.79 553.84,77.33 554.05,75.87 554.25,74.41 554.46,72.96 554.67,71.52 554.87,70.09 555.08,68.67 555.28,67.25 555.49,65.85 555.7,64.47 555.9,63.09 556.11,61.73 556.32,60.39 556.52,59.06 556.73,57.75 556.93,56.46 557.14,55.18 557.35,53.93 557.55,52.7 557.76,51.49 557.96,50.31 558.17,49.15 558.38,48.01 558.58,46.9 558.79,45.81 558.99,44.76 559.2,43.73 559.41,42.73 559.61,41.75 559.82,40.81 560.03,39.9 560.23,39.02 560.44,38.18 560.64,37.36 560.85,36.58 561.06,35.83 561.26,35.12 561.47,34.44 561.67,33.8 561.88,33.2 562.09,32.63 562.29,32.09 562.5,31.6 562.71,31.14 562.91,30.72 563.12,30.34 563.32,29.99 563.53,29.69 563.74,29.42 563.94,29.19 564.15,29.01 564.35,28.86 564.56,28.75 564.77,28.68 564.97,28.65 565.18,28.66 565.38,28.71 565.59,28.8 565.8,28.93 566,29.1 566.21,29.3 566.42,29.55 566.62,29.84 566.83,30.16 567.03,30.52 567.24,30.92 567.45,31.36 567.65,31.84 567.86,32.36 568.06,32.91 568.27,33.49 568.48,34.12 568.68,34.78 568.89,35.47 569.09,36.2 569.3,36.97 569.51,37.77 569.71,38.6 569.92,39.46 570.13,40.35 570.33,41.28 570.54,42.24 570.74,43.22 570.95,44.24 571.16,45.28 571.36,46.35 571.57,47.45 571.77,48.57 571.98,49.72 572.19,50.9 572.39,52.09 572.6,53.31 572.81,54.56 573.01,55.82 573.22,57.1 573.42,58.4 573.63,59.72 573.84,61.06 574.04,62.41 574.25,63.78 574.45,65.16 574.66,66.55 574.87,67.96 575.07,69.38 575.28,70.81 575.48,72.24 575.69,73.69 575.9,75.14 576.1,76.6 576.31,78.06 576.52,79.53 576.72,80.99 576.93,82.46 577.13,83.94 577.34,85.41 577.55,86.87 577.75,88.34 577.96,89.8 578.16,91.26 578.37,92.71 578.58,94.16 578.78,95.59 578.99,97.02 579.19,98.44 579.4,99.85 579.61,101.24 579.81,102.62 580.02,103.99 580.23,105.34 580.43,106.68 580.64,108 580.84,109.3 581.05,110.58 581.26,111.84 581.46,113.09 581.67,114.31 581.87,115.5 582.08,116.68 582.29,117.83 582.49,118.95 582.7,120.05 582.91,121.12 583.11,122.16 583.32,123.18 583.52,124.16 583.73,125.12 583.94,126.05 584.14,126.94 584.35,127.8 584.55,128.63 584.76,129.43 584.97,130.2 585.17,130.93 585.38,131.62 585.58,132.28 585.79,132.91 586,133.49 586.2,134.04 586.41,134.56 586.62,135.04 586.82,135.48 587.03,135.88 587.23,136.24 587.44,136.56 587.65,136.85 587.85,137.1 588.06,137.3 588.26,137.47 588.47,137.6 588.68,137.69 588.88,137.74 589.09,137.75 589.3,137.72 589.5,137.65 589.71,137.54 589.91,137.39 590.12,137.21 590.33,136.98 590.53,136.71 590.74,136.41 590.94,136.06 591.15,135.68 591.36,135.26 591.56,134.8 591.77,134.31 591.97,133.77 592.18,133.2 592.39,132.6 592.59,131.96 592.8,131.28 593.01,130.57 593.21,129.82 593.42,129.04 593.62,128.22 593.83,127.38 594.04,126.5 594.24,125.59 594.45,124.65 594.65,123.67 594.86,122.67 595.07,121.64 595.27,120.59 595.48,119.5 595.68,118.39 595.89,117.25 596.1,116.09 596.3,114.91 596.51,113.7 596.72,112.47 596.92,111.22 597.13,109.94 597.33,108.65 597.54,107.34 597.75,106.01 597.95,104.67 598.16,103.31 598.36,101.93 598.57,100.55 598.78,99.15 598.98,97.73 599.19,96.31 599.4,94.88 599.6,93.44 599.81,91.99 600.01,90.53 600.22,89.07 600.43,87.61 600.63,86.14 600.84,84.67 601.04,83.2 601.25,81.73 601.46,80.26 601.66,78.79 601.87,77.33 602.07,75.87 602.28,74.41 602.49,72.96 602.69,71.52 602.9,70.09 603.11,68.67 603.31,67.25 603.52,65.85 603.72,64.47 603.93,63.09 604.14,61.73 604.34,60.39 604.55,59.06 604.75,57.75 604.96,56.46 605.17,55.18 605.37,53.93 605.58,52.7 605.79,51.49 605.99,50.31 606.2,49.15 606.4,48.01 606.61,46.9 606.82,45.81 607.02,44.76 607.23,43.73 607.43,42.73 607.64,41.75 607.85,40.81 608.05,39.9 608.26,39.02 608.46,38.18 608.67,37.36 608.88,36.58 609.08,35.83 609.29,35.12 609.5,34.44 609.7,33.8 609.91,33.2 610.11,32.63 610.32,32.09 610.53,31.6 610.73,31.14 610.94,30.72 611.14,30.34 611.35,29.99 611.56,29.69 611.76,29.42 611.97,29.19 612.17,29.01 612.38,28.86 612.59,28.75 612.79,28.68 613,28.65 613.21,28.66 613.41,28.71 613.62,28.8 613.82,28.93 614.03,29.1 614.24,29.3 614.44,29.55 614.65,29.84 614.85,30.16 615.06,30.52 615.27,30.92 615.47,31.36 615.68,31.84 615.89,32.36 616.09,32.91 616.3,33.49 616.5,34.12 616.71,34.78 616.92,35.47 617.12,36.2 617.33,36.97 617.53,37.77 617.74,38.6 617.95,39.46 618.15,40.35 618.36,41.28 618.56,42.24 618.77,43.22 618.98,44.24 619.18,45.28 619.39,46.35 619.6,47.45 619.8,48.57 620.01,49.72 620.21,50.9 620.42,52.09 620.63,53.31 620.83,54.56 621.04,55.82 621.24,57.1 621.45,58.4 621.66,59.72 621.86,61.06 622.07,62.41 622.28,63.78 622.48,65.16 622.69,66.55 622.89,67.96 623.1,69.38 623.31,70.81 623.51,72.24 623.72,73.69 623.92,75.14 624.13,76.6 624.34,78.06 624.54,79.53 624.75,80.99 624.95,82.46 625.16,83.94 625.37,85.41 625.57,86.87 625.78,88.34 625.99,89.8 626.19,91.26 626.4,92.71 626.6,94.16 626.81,95.59 627.02,97.02 627.22,98.44 627.43,99.85 627.63,101.24 627.84,102.62 628.05,103.99 628.25,105.34 628.46,106.68 628.66,108 628.87,109.3 629.08,110.58 629.28,111.84 629.49,113.09 629.7,114.31 629.9,115.5 630.11,116.68 630.31,117.83 630.52,118.95 630.73,120.05 630.93,121.12 631.14,122.16 631.34,123.18 631.55,124.16 631.76,125.12 631.96,126.05 632.17,126.94 632.38,127.8 632.58,128.63 632.79,129.43 632.99,130.2 633.2,130.93 633.41,131.62 633.61,132.28 633.82,132.91 634.02,133.49 634.23,134.04 634.44,134.56 634.64,135.04 634.85,135.48 635.05,135.88 635.26,136.24 635.47,136.56 635.67,136.85 635.88,137.1 636.09,137.3 636.29,137.47 636.5,137.6 636.7,137.69 636.91,137.74 637.12,137.75 637.32,137.72 637.53,137.65 637.73,137.54 637.94,137.39 638.15,137.21 638.35,136.98 638.56,136.71 638.77,136.41 638.97,136.06 639.18,135.68 639.38,135.26 639.59,134.8 639.8,134.31 640,133.77 640.21,133.2 640.41,132.6 640.62,131.96 640.83,131.28 641.03,130.57 641.24,129.82 641.44,129.04 641.65,128.22 641.86,127.38 642.06,126.5 642.27,125.59 642.48,124.65 642.68,123.67 642.89,122.67 643.09,121.64 643.3,120.59 643.51,119.5 643.71,118.39 643.92,117.25 644.12,116.09 644.33,114.91 644.54,113.7 644.74,112.47 644.95,111.22 645.15,109.94 645.36,108.65 645.57,107.34 645.77,106.01 645.98,104.67 646.19,103.31 646.39,101.93 646.6,100.55 646.8,99.15 647.01,97.73 647.22,96.31 647.42,94.88 647.63,93.44 647.83,91.99 648.04,90.53 648.25,89.07 648.45,87.61 648.66,86.14 648.87,84.67 649.07,83.2 649.28,81.73 649.48,80.26 649.69,78.79 649.9,77.33 650.1,75.87 650.31,74.41 650.51,72.96 650.72,71.52 650.93,70.09 651.13,68.67 651.34,67.25 651.54,65.85 651.75,64.47 651.96,63.09 652.16,61.73 652.37,60.39 652.58,59.06 652.78,57.75 652.99,56.46 653.19,55.18 653.4,53.93 653.61,52.7 653.81,51.49 654.02,50.31 654.22,49.15 654.43,48.01 654.64,46.9 654.84,45.81 655.05,44.76 655.26,43.73 655.46,42.73 655.67,41.75 655.87,40.81 656.08,39.9 656.29,39.02 656.49,38.18 656.7,37.36 656.9,36.58 657.11,35.83 657.32,35.12 657.52,34.44 657.73,33.8 657.93,33.2 658.14,32.63 658.35,32.09"/>
<polyline fill="none" stroke="#0072BD" stroke-width="1.2" stroke-opacity="0.72" points="488.5,83.2 488.71,82.3 488.91,81.41 489.12,80.52 489.32,79.62 489.53,78.73 489.74,77.84 489.94,76.95 490.15,76.07 490.36,75.18 490.56,74.3 490.77,73.43 490.97,72.55 491.18,71.69 491.39,70.82 491.59,69.96 491.8,69.11 492,68.26 492.21,67.42 492.42,66.58 492.62,65.75 492.83,64.93 493.03,64.11 493.24,63.3 493.45,62.5 493.65,61.7 493.86,60.92 494.07,60.14 494.27,59.37 494.48,58.62 494.68,57.87 494.89,57.13 495.1,56.4 495.3,55.68 495.51,54.97 495.71,54.27 495.92,53.59 496.13,52.91 496.33,52.25 496.54,51.6 496.75,50.96 496.95,50.33 497.16,49.71 497.36,49.11 497.57,48.53 497.78,47.95 497.98,47.39 498.19,46.84 498.39,46.31 498.6,45.79 498.81,45.28 499.01,44.79 499.22,44.32 499.42,43.86 499.63,43.41 499.84,42.98 500.04,42.57 500.25,42.17 500.46,41.79 500.66,41.42 500.87,41.07 501.07,40.74 501.28,40.42 501.49,40.12 501.69,39.83 501.9,39.56 502.1,39.31 502.31,39.08 502.52,38.86 502.72,38.66 502.93,38.48 503.13,38.31 503.34,38.16 503.55,38.03 503.75,37.92 503.96,37.82 504.17,37.74 504.37,37.68 504.58,37.64 504.78,37.61 504.99,37.6 505.2,37.61 505.4,37.64 505.61,37.68 505.81,37.74 506.02,37.82 506.23,37.92 506.43,38.03 506.64,38.16 506.85,38.31 507.05,38.48 507.26,38.66 507.46,38.86 507.67,39.08 507.88,39.31 508.08,39.56 508.29,39.83 508.49,40.12 508.7,40.42 508.91,40.74 509.11,41.07 509.32,41.42 509.52,41.79 509.73,42.17 509.94,42.57 510.14,42.98 510.35,43.41 510.56,43.86 510.76,44.32 510.97,44.79 511.17,45.28 511.38,45.79 511.59,46.31 511.79,46.84 512,47.39 512.2,47.95 512.41,48.53 512.62,49.11 512.82,49.71 513.03,50.33 513.24,50.96 513.44,51.6 513.65,52.25 513.85,52.91 514.06,53.59 514.27,54.27 514.47,54.97 514.68,55.68 514.88,56.4 515.09,57.13 515.3,57.87 515.5,58.62 515.71,59.37 515.91,60.14 516.12,60.92 516.33,61.7 516.53,62.5 516.74,63.3 516.95,64.11 517.15,64.93 517.36,65.75 517.56,66.58 517.77,67.42 517.98,68.26 518.18,69.11 518.39,69.96 518.59,70.82 518.8,71.69 519.01,72.55 519.21,73.43 519.42,74.3 519.62,75.18 519.83,76.07 520.04,76.95 520.24,77.84 520.45,78.73 520.66,79.62 520.86,80.52 521.07,81.41 521.27,82.3 521.48,83.2 521.69,83.2 521.89,83.2 522.1,83.2 522.3,83.2 522.51,83.2 522.72,83.2 522.92,83.2 523.13,83.2 523.34,83.2 523.54,83.2 523.75,83.2 523.95,83.2 524.16,83.2 524.37,83.2 524.57,83.2 524.78,83.2 524.98,83.2 525.19,83.2 525.4,83.2 525.6,83.2 525.81,83.2 526.01,83.2 526.22,83.2 526.43,83.2 526.63,83.2 526.84,83.2 527.05,83.2 527.25,83.2 527.46,83.2 527.66,83.2 527.87,83.2 528.08,83.2 528.28,83.2 528.49,83.2 528.69,83.2 528.9,83.2 529.11,83.2 529.31,83.2 529.52,83.2 529.73,83.2 529.93,83.2 530.14,83.2 530.34,83.2 530.55,83.2 530.76,83.2 530.96,83.2 531.17,83.2 531.37,83.2 531.58,83.2 531.79,83.2 531.99,83.2 532.2,83.2 532.4,83.2 532.61,83.2 532.82,83.2 533.02,83.2 533.23,83.2 533.44,83.2 533.64,83.2 533.85,83.2 534.05,83.2 534.26,83.2 534.47,83.2 534.67,83.2 534.88,83.2 535.08,83.2 535.29,83.2 535.5,83.2 535.7,83.2 535.91,83.2 536.11,83.2 536.32,83.2 536.53,83.2 536.73,83.2 536.94,83.2 537.15,83.2 537.35,83.2 537.56,83.2 537.76,83.2 537.97,83.2 538.18,83.2 538.38,83.2 538.59,83.2 538.79,83.2 539,83.2 539.21,83.2 539.41,83.2 539.62,83.2 539.83,83.2 540.03,83.2 540.24,83.2 540.44,83.2 540.65,83.2 540.86,83.2 541.06,83.2 541.27,83.2 541.47,83.2 541.68,83.2 541.89,83.2 542.09,83.2 542.3,83.2 542.5,83.2 542.71,83.2 542.92,83.2 543.12,83.2 543.33,83.2 543.54,83.2 543.74,83.2 543.95,83.2 544.15,83.2 544.36,83.2 544.57,83.2 544.77,83.2 544.98,83.2 545.18,83.2 545.39,83.2 545.6,83.2 545.8,83.2 546.01,83.2 546.22,83.2 546.42,83.2 546.63,83.2 546.83,83.2 547.04,83.2 547.25,83.2 547.45,83.2 547.66,83.2 547.86,83.2 548.07,83.2 548.28,83.2 548.48,83.2 548.69,83.2 548.89,83.2 549.1,83.2 549.31,83.2 549.51,83.2 549.72,83.2 549.93,83.2 550.13,83.2 550.34,83.2 550.54,83.2 550.75,83.2 550.96,83.2 551.16,83.2 551.37,83.2 551.57,83.2 551.78,83.2 551.99,83.2 552.19,83.2 552.4,83.2 552.6,83.2 552.81,83.2 553.02,83.2 553.22,83.2 553.43,83.2 553.64,83.2 553.84,83.2 554.05,83.2 554.25,83.2 554.46,83.2 554.67,83.2 554.87,83.2 555.08,83.2 555.28,83.2 555.49,83.2 555.7,83.2 555.9,83.2 556.11,83.2 556.32,83.2 556.52,83.2 556.73,83.2 556.93,83.2 557.14,83.2 557.35,83.2 557.55,83.2 557.76,83.2 557.96,83.2 558.17,83.2 558.38,83.2 558.58,83.2 558.79,83.2 558.99,83.2 559.2,83.2 559.41,83.2 559.61,83.2 559.82,83.2 560.03,83.2 560.23,83.2 560.44,83.2 560.64,83.2 560.85,83.2 561.06,83.2 561.26,83.2 561.47,83.2 561.67,83.2 561.88,83.2 562.09,83.2 562.29,83.2 562.5,83.2 562.71,83.2 562.91,83.2 563.12,83.2 563.32,83.2 563.53,83.2 563.74,83.2 563.94,83.2 564.15,83.2 564.35,83.2 564.56,83.2 564.77,83.2 564.97,83.2 565.18,83.2 565.38,83.2 565.59,83.2 565.8,83.2 566,83.2 566.21,83.2 566.42,83.2 566.62,83.2 566.83,83.2 567.03,83.2 567.24,83.2 567.45,83.2 567.65,83.2 567.86,83.2 568.06,83.2 568.27,83.2 568.48,83.2 568.68,83.2 568.89,83.2 569.09,83.2 569.3,83.2 569.51,83.2 569.71,83.2 569.92,83.2 570.13,83.2 570.33,83.2 570.54,83.2 570.74,83.2 570.95,83.2 571.16,83.2 571.36,83.2 571.57,83.2 571.77,83.2 571.98,83.2 572.19,83.2 572.39,83.2 572.6,83.2 572.81,83.2 573.01,83.2 573.22,83.2 573.42,83.2 573.63,83.2 573.84,83.2 574.04,83.2 574.25,83.2 574.45,83.2 574.66,83.2 574.87,83.2 575.07,83.2 575.28,83.2 575.48,83.2 575.69,83.2 575.9,83.2 576.1,83.2 576.31,83.2 576.52,83.2 576.72,83.2 576.93,83.2 577.13,83.2 577.34,83.2 577.55,83.2 577.75,83.2 577.96,83.2 578.16,83.2 578.37,83.2 578.58,83.2 578.78,83.2 578.99,83.2 579.19,83.2 579.4,83.2 579.61,83.2 579.81,83.2 580.02,83.2 580.23,83.2 580.43,83.2 580.64,83.2 580.84,83.2 581.05,83.2 581.26,83.2 581.46,83.2 581.67,83.2 581.87,83.2 582.08,83.2 582.29,83.2 582.49,83.2 582.7,83.2 582.91,83.2 583.11,83.2 583.32,83.2 583.52,83.2 583.73,83.2 583.94,83.2 584.14,83.2 584.35,83.2 584.55,83.2 584.76,83.2 584.97,83.2 585.17,83.2 585.38,83.2 585.58,83.2 585.79,83.2 586,83.2 586.2,83.2 586.41,83.2 586.62,83.2 586.82,83.2 587.03,83.2 587.23,83.2 587.44,83.2 587.65,83.2 587.85,83.2 588.06,83.2 588.26,83.2 588.47,83.2 588.68,83.2 588.88,83.2 589.09,83.2 589.3,83.2 589.5,83.2 589.71,83.2 589.91,83.2 590.12,83.2 590.33,83.2 590.53,83.2 590.74,83.2 590.94,83.2 591.15,83.2 591.36,83.2 591.56,83.2 591.77,83.2 591.97,83.2 592.18,83.2 592.39,83.2 592.59,83.2 592.8,83.2 593.01,83.2 593.21,83.2 593.42,83.2 593.62,83.2 593.83,83.2 594.04,83.2 594.24,83.2 594.45,83.2 594.65,83.2 594.86,83.2 595.07,83.2 595.27,83.2 595.48,83.2 595.68,83.2 595.89,83.2 596.1,83.2 596.3,83.2 596.51,83.2 596.72,83.2 596.92,83.2 597.13,83.2 597.33,83.2 597.54,83.2 597.75,83.2 597.95,83.2 598.16,83.2 598.36,83.2 598.57,83.2 598.78,83.2 598.98,83.2 599.19,83.2 599.4,83.2 599.6,83.2 599.81,83.2 600.01,83.2 600.22,83.2 600.43,83.2 600.63,83.2 600.84,83.2 601.04,83.2 601.25,83.2 601.46,83.2 601.66,83.2 601.87,83.2 602.07,83.2 602.28,83.2 602.49,83.2 602.69,83.2 602.9,83.2 603.11,83.2 603.31,83.2 603.52,83.2 603.72,83.2 603.93,83.2 604.14,83.2 604.34,83.2 604.55,83.2 604.75,83.2 604.96,83.2 605.17,83.2 605.37,83.2 605.58,83.2 605.79,83.2 605.99,83.2 606.2,83.2 606.4,83.2 606.61,83.2 606.82,83.2 607.02,83.2 607.23,83.2 607.43,83.2 607.64,83.2 607.85,83.2 608.05,83.2 608.26,83.2 608.46,83.2 608.67,83.2 608.88,83.2 609.08,83.2 609.29,83.2 609.5,83.2 609.7,83.2 609.91,83.2 610.11,83.2 610.32,83.2 610.53,83.2 610.73,83.2 610.94,83.2 611.14,83.2 611.35,83.2 611.56,83.2 611.76,83.2 611.97,83.2 612.17,83.2 612.38,83.2 612.59,83.2 612.79,83.2 613,83.2 613.21,83.2 613.41,83.2 613.62,83.2 613.82,83.2 614.03,83.2 614.24,83.2 614.44,83.2 614.65,83.2 614.85,83.2 615.06,83.2 615.27,83.2 615.47,83.2 615.68,83.2 615.89,83.2 616.09,83.2 616.3,83.2 616.5,83.2 616.71,83.2 616.92,83.2 617.12,83.2 617.33,83.2 617.53,83.2 617.74,83.2 617.95,83.2 618.15,83.2 618.36,83.2 618.56,83.2 618.77,83.2 618.98,83.2 619.18,83.2 619.39,83.2 619.6,83.2 619.8,83.2 620.01,83.2 620.21,83.2 620.42,83.2 620.63,83.2 620.83,83.2 621.04,83.2 621.24,83.2 621.45,83.2 621.66,83.2 621.86,83.2 622.07,83.2 622.28,83.2 622.48,83.2 622.69,83.2 622.89,83.2 623.1,83.2 623.31,83.2 623.51,83.2 623.72,83.2 623.92,83.2 624.13,83.2 624.34,83.2 624.54,83.2 624.75,83.2 624.95,83.2 625.16,83.2 625.37,83.2 625.57,83.2 625.78,83.2 625.99,83.2 626.19,83.2 626.4,83.2 626.6,83.2 626.81,83.2 627.02,83.2 627.22,83.2 627.43,83.2 627.63,83.2 627.84,83.2 628.05,83.2 628.25,83.2 628.46,83.2 628.66,83.2 628.87,83.2 629.08,83.2 629.28,83.2 629.49,83.2 629.7,83.2 629.9,83.2 630.11,83.2 630.31,83.2 630.52,83.2 630.73,83.2 630.93,83.2 631.14,83.2 631.34,83.2 631.55,83.2 631.76,83.2 631.96,83.2 632.17,83.2 632.38,83.2 632.58,83.2 632.79,83.2 632.99,83.2 633.2,83.2 633.41,83.2 633.61,83.2 633.82,83.2 634.02,83.2 634.23,83.2 634.44,83.2 634.64,83.2 634.85,83.2 635.05,83.2 635.26,83.2 635.47,83.2 635.67,83.2 635.88,83.2 636.09,83.2 636.29,83.2 636.5,83.2 636.7,83.2 636.91,83.2 637.12,83.2 637.32,83.2 637.53,83.2 637.73,83.2 637.94,83.2 638.15,83.2 638.35,83.2 638.56,83.2 638.77,83.2 638.97,83.2 639.18,83.2 639.38,83.2 639.59,83.2 639.8,83.2 640,83.2 640.21,83.2 640.41,83.2 640.62,83.2 640.83,83.2 641.03,83.2 641.24,83.2 641.44,83.2 641.65,83.2 641.86,83.2 642.06,83.2 642.27,83.2 642.48,83.2 642.68,83.2 642.89,83.2 643.09,83.2 643.3,83.2 643.51,83.2 643.71,83.2 643.92,83.2 644.12,83.2 644.33,83.2 644.54,83.2 644.74,83.2 644.95,83.2 645.15,83.2 645.36,83.2 645.57,83.2 645.77,83.2 645.98,83.2 646.19,83.2 646.39,83.2 646.6,83.2 646.8,83.2 647.01,83.2 647.22,83.2 647.42,83.2 647.63,83.2 647.83,83.2 648.04,83.2 648.25,83.2 648.45,83.2 648.66,83.2 648.87,83.2 649.07,83.2 649.28,83.2 649.48,83.2 649.69,83.2 649.9,83.2 650.1,83.2 650.31,83.2 650.51,83.2 650.72,83.2 650.93,83.2 651.13,83.2 651.34,83.2 651.54,83.2 651.75,83.2 651.96,83.2 652.16,83.2 652.37,83.2 652.58,83.2 652.78,83.2 652.99,83.2 653.19,83.2 653.4,83.2 653.61,83.2 653.81,83.2 654.02,83.2 654.22,83.2 654.43,83.2 654.64,83.2 654.84,83.2 655.05,83.2 655.26,83.2 655.46,83.2 655.67,83.2 655.87,83.2 656.08,83.2 656.29,83.2 656.49,83.2 656.7,83.2 656.9,83.2 657.11,83.2 657.32,83.2 657.52,83.2 657.73,83.2 657.93,83.2 658.14,83.2 658.35,83.2"/>
</g>
<line x1="488.5" y1="19.0" x2="657.3" y2="19.0" stroke="#777" stroke-width="1.3"/>
<line x1="488.5" y1="147.3" x2="657.3" y2="147.3" stroke="#555" stroke-width="1.3"/>
<line x1="488.5" y1="147.3" x2="488.5" y2="145.10000000000002" stroke="#555" stroke-width="1.1"/>
<line x1="488.5" y1="19.0" x2="488.5" y2="21.2" stroke="#555" stroke-width="1.1"/>
<text x="488.5" y="160.9" font-size="10.5" text-anchor="middle" fill="#262626">0</text>
<line x1="529.73" y1="147.3" x2="529.73" y2="145.10000000000002" stroke="#555" stroke-width="1.1"/>
<line x1="529.73" y1="19.0" x2="529.73" y2="21.2" stroke="#555" stroke-width="1.1"/>
<text x="529.73" y="160.9" font-size="10.5" text-anchor="middle" fill="#262626">0.5</text>
<line x1="570.95" y1="147.3" x2="570.95" y2="145.10000000000002" stroke="#555" stroke-width="1.1"/>
<line x1="570.95" y1="19.0" x2="570.95" y2="21.2" stroke="#555" stroke-width="1.1"/>
<text x="570.95" y="160.9" font-size="10.5" text-anchor="middle" fill="#262626">1</text>
<line x1="612.17" y1="147.3" x2="612.17" y2="145.10000000000002" stroke="#555" stroke-width="1.1"/>
<line x1="612.17" y1="19.0" x2="612.17" y2="21.2" stroke="#555" stroke-width="1.1"/>
<text x="612.17" y="160.9" font-size="10.5" text-anchor="middle" fill="#262626">1.5</text>
<line x1="653.4" y1="147.3" x2="653.4" y2="145.10000000000002" stroke="#555" stroke-width="1.1"/>
<line x1="653.4" y1="19.0" x2="653.4" y2="21.2" stroke="#555" stroke-width="1.1"/>
<text x="653.4" y="160.9" font-size="10.5" text-anchor="middle" fill="#262626">2</text>
<line x1="488.5" y1="18.4" x2="488.5" y2="147.9" stroke="#0072BD" stroke-opacity="0.85" stroke-width="1.3"/>
<line x1="657.3" y1="18.4" x2="657.3" y2="147.9" stroke="#D95319" stroke-opacity="0.85" stroke-width="1.3"/>
<line x1="488.5" y1="31.5" x2="490.8" y2="31.5" stroke="#0072BD" stroke-width="1.1"/>
<text x="485.2" y="35.9" font-size="10.5" text-anchor="end" fill="#0072BD">40</text>
<line x1="488.5" y1="57.4" x2="490.8" y2="57.4" stroke="#0072BD" stroke-width="1.1"/>
<text x="485.2" y="61.8" font-size="10.5" text-anchor="end" fill="#0072BD">20</text>
<line x1="488.5" y1="83.2" x2="490.8" y2="83.2" stroke="#0072BD" stroke-width="1.1"/>
<text x="485.2" y="87.6" font-size="10.5" text-anchor="end" fill="#0072BD">0</text>
<line x1="488.5" y1="109" x2="490.8" y2="109" stroke="#0072BD" stroke-width="1.1"/>
<text x="485.2" y="113.4" font-size="10.5" text-anchor="end" fill="#0072BD">-20</text>
<line x1="488.5" y1="135" x2="490.8" y2="135" stroke="#0072BD" stroke-width="1.1"/>
<text x="485.2" y="139.4" font-size="10.5" text-anchor="end" fill="#0072BD">-40</text>
<line x1="657.3" y1="19" x2="655.0" y2="19" stroke="#D95319" stroke-width="1.1"/>
<text x="660.5" y="23.4" font-size="10.5" fill="#D95319">6</text>
<line x1="657.3" y1="40.38" x2="655.0" y2="40.38" stroke="#D95319" stroke-width="1.1"/>
<text x="660.5" y="44.78" font-size="10.5" fill="#D95319">4</text>
<line x1="657.3" y1="61.76" x2="655.0" y2="61.76" stroke="#D95319" stroke-width="1.1"/>
<text x="660.5" y="66.16" font-size="10.5" fill="#D95319">2</text>
<line x1="657.3" y1="83.14" x2="655.0" y2="83.14" stroke="#D95319" stroke-width="1.1"/>
<text x="660.5" y="87.54" font-size="10.5" fill="#D95319">0</text>
<line x1="657.3" y1="104.52" x2="655.0" y2="104.52" stroke="#D95319" stroke-width="1.1"/>
<text x="660.5" y="108.92" font-size="10.5" fill="#D95319">-2</text>
<line x1="657.3" y1="125.9" x2="655.0" y2="125.9" stroke="#D95319" stroke-width="1.1"/>
<text x="660.5" y="130.3" font-size="10.5" fill="#D95319">-4</text>
<line x1="657.3" y1="147.28" x2="655.0" y2="147.28" stroke="#D95319" stroke-width="1.1"/>
<text x="660.5" y="151.68" font-size="10.5" fill="#D95319">-6</text>
<text x="572.9" y="174.4" font-size="10.8" text-anchor="middle" fill="#262626">Time (ms)</text>
<text transform="translate(466.1,119.6) rotate(-90)" font-family='"Liberation Serif", serif' font-size="11.4" fill="#0072BD">Acceleration</text>
<text transform="translate(466.1,58.7) rotate(-90)" font-family='"Liberation Serif", serif' font-size="11.4" fill="#0072BD">(<tspan font-style="italic">g</tspan>)</text>
<text transform="translate(682.1,84) rotate(-90)" font-size="10.4" text-anchor="middle" fill="#D95319">Displacement (µm)</text>
<text x="493.3" y="27.9" font-size="9.8" font-weight="bold" fill="#000">Case A</text>
<text x="487.6" y="10.7" font-family='"Liberation Serif", serif' font-weight="bold" font-size="14" fill="#000">(b)</text>
<line x1="476.8" y1="177.7" x2="685" y2="177.7" stroke="#e0e0e0" stroke-width="1.1"/>
<text x="487.4" y="181.5" font-family='"Liberation Serif", serif' font-weight="bold" font-size="14" fill="#000">(c)</text>
<g clip-path="url(#cc)">
<polyline fill="none" stroke="#D95319" stroke-width="1.1" stroke-opacity="0.8" points="488.5,286.7 488.58,286.7 488.67,286.69 488.75,286.67 488.84,286.62 488.92,286.55 489.01,286.44 489.09,286.29 489.18,286.09 489.26,285.85 489.34,285.54 489.43,285.18 489.51,284.75 489.6,284.25 489.68,283.69 489.77,283.06 489.85,282.37 489.94,281.6 490.02,280.78 490.1,279.88 490.19,278.93 490.27,277.92 490.36,276.86 490.44,275.75 490.53,274.61 490.61,273.42 490.7,272.21 490.78,270.98 490.86,269.73 490.95,268.48 491.03,267.22 491.12,265.98 491.2,264.75 491.29,263.54 491.37,262.36 491.46,261.22 491.54,260.12 491.62,259.06 491.71,258.06 491.79,257.12 491.88,256.24 491.96,255.43 492.05,254.68 492.13,254 492.22,253.39 492.3,252.85 492.38,252.39 492.47,251.98 492.55,251.65 492.64,251.38 492.72,251.17 492.81,251.01 492.89,250.9 492.98,250.84 493.06,250.81 493.14,250.82 493.23,250.85 493.31,250.91 493.4,250.97 493.48,251.03 493.57,251.09 493.65,251.14 493.74,251.18 493.82,251.18 493.9,251.16 493.99,251.1 494.07,250.99 494.16,250.83 494.24,250.62 494.33,250.36 494.41,250.03 494.5,249.64 494.58,249.19 494.66,248.67 494.75,248.08 494.83,247.43 494.92,246.72 495,245.94 495.09,245.1 495.17,244.21 495.26,243.27 495.34,242.29 495.42,241.26 495.51,240.2 495.59,239.11 495.68,238.01 495.76,236.88 495.85,235.76 495.93,234.63 496.02,233.51 496.1,232.41 496.18,231.33 496.27,230.28 496.35,229.27 496.44,228.3 496.52,227.38 496.61,226.51 496.69,225.71 496.78,224.96 496.86,224.28 496.94,223.68 497.03,223.14 497.11,222.67 497.2,222.28 497.28,221.96 497.37,221.7 497.45,221.52 497.54,221.4 497.62,221.35 497.71,221.35 497.79,221.4 497.87,221.5 497.96,221.65 498.04,221.82 498.13,222.03 498.21,222.26 498.3,222.5 498.38,222.75 498.47,222.99 498.55,223.23 498.63,223.46 498.72,223.66 498.8,223.83 498.89,223.97 498.97,224.06 499.06,224.11 499.14,224.11 499.23,224.06 499.31,223.94 499.39,223.77 499.48,223.53 499.56,223.23 499.65,222.86 499.73,222.43 499.82,221.94 499.9,221.38 499.99,220.77 500.07,220.11 500.15,219.39 500.24,218.63 500.32,217.83 500.41,217 500.49,216.14 500.58,215.26 500.66,214.36 500.75,213.46 500.83,212.56 500.91,211.67 501,210.8 501.08,209.94 501.17,209.12 501.25,208.34 501.34,207.6 501.42,206.91 501.51,206.27 501.59,205.69 501.67,205.18 501.76,204.73 501.84,204.35 501.93,204.05 502.01,203.81 502.1,203.65 502.18,203.57 502.27,203.55 502.35,203.61 502.43,203.73 502.52,203.92 502.6,204.16 502.69,204.46 502.77,204.81 502.86,205.2 502.94,205.63 503.03,206.09 503.11,206.58 503.19,207.08 503.28,207.59 503.36,208.1 503.45,208.6 503.53,209.09 503.62,209.56 503.7,210.01 503.79,210.42 503.87,210.79 503.95,211.12 504.04,211.4 504.12,211.62 504.21,211.79 504.29,211.9 504.38,211.95 504.46,211.93 504.55,211.85 504.63,211.7 504.71,211.5 504.8,211.23 504.88,210.91 504.97,210.53 505.05,210.1 505.14,209.63 505.22,209.11 505.31,208.56 505.39,207.99 505.47,207.39 505.56,206.78 505.64,206.16 505.73,205.54 505.81,204.93 505.9,204.34 505.98,203.76 506.07,203.22 506.15,202.71 506.23,202.25 506.32,201.83 506.4,201.47 506.49,201.17 506.57,200.93 506.66,200.75 506.74,200.65 506.83,200.62 506.91,200.66 506.99,200.77 507.08,200.96 507.16,201.22 507.25,201.55 507.33,201.95 507.42,202.41 507.5,202.93 507.59,203.51 507.67,204.14 507.75,204.82 507.84,205.53 507.92,206.27 508.01,207.04 508.09,207.82 508.18,208.62 508.26,209.42 508.35,210.21 508.43,211 508.51,211.76 508.6,212.5 508.68,213.2 508.77,213.87 508.85,214.49 508.94,215.06 509.02,215.59 509.11,216.05 509.19,216.46 509.27,216.8 509.36,217.08 509.44,217.29 509.53,217.44 509.61,217.53 509.7,217.56 509.78,217.53 509.87,217.45 509.95,217.31 510.03,217.13 510.12,216.9 510.2,216.64 510.29,216.35 510.37,216.04 510.46,215.71 510.54,215.37 510.63,215.03 510.71,214.69 510.79,214.37 510.88,214.07 510.96,213.8 511.05,213.56 511.13,213.36 511.22,213.21 511.3,213.11 511.39,213.07 511.47,213.09 511.55,213.18 511.64,213.33 511.72,213.56 511.81,213.85 511.89,214.22 511.98,214.67 512.06,215.18 512.15,215.76 512.23,216.41 512.31,217.13 512.4,217.9 512.48,218.74 512.57,219.62 512.65,220.54 512.74,221.51 512.82,222.5 512.91,223.53 512.99,224.56 513.07,225.61 513.16,226.67 513.24,227.72 513.33,228.75 513.41,229.77 513.5,230.76 513.58,231.72 513.67,232.64 513.75,233.52 513.84,234.35 513.92,235.13 514,235.84 514.09,236.5 514.17,237.09 514.26,237.62 514.34,238.09 514.43,238.49 514.51,238.82 514.6,239.1 514.68,239.31 514.76,239.46 514.85,239.57 514.93,239.62 515.02,239.63 515.1,239.6 515.19,239.54 515.27,239.45 515.36,239.34 515.44,239.23 515.52,239.11 515.61,238.99 515.69,238.88 515.78,238.79 515.86,238.72 515.95,238.69 516.03,238.69 516.12,238.74 516.2,238.84 516.28,238.99 516.37,239.2 516.45,239.48 516.54,239.82 516.62,240.23 516.71,240.71 516.79,241.26 516.88,241.88 516.96,242.57 517.04,243.34 517.13,244.16 517.21,245.05 517.3,246 517.38,247.01 517.47,248.06 517.55,249.16 517.64,250.29 517.72,251.46 517.8,252.65 517.89,253.86 517.97,255.08 518.06,256.3 518.14,257.52 518.23,258.72 518.31,259.91 518.4,261.07 518.48,262.19 518.56,263.28 518.65,264.32 518.73,265.31 518.82,266.25 518.9,267.12 518.99,267.94 519.07,268.69 519.16,269.38 519.24,270 519.32,270.55 519.41,271.03 519.49,271.45 519.58,271.81 519.66,272.11 519.75,272.35 519.83,272.54 519.92,272.68 520,272.78 520.08,272.84 520.17,272.88 520.25,272.9 520.34,272.9 520.42,272.89 520.51,272.88 520.59,272.88 520.68,272.89 520.76,272.93 520.84,272.99 520.93,273.09 521.01,273.22 521.1,273.41 521.18,273.65 521.27,273.94 521.35,274.29 521.44,274.71 521.52,275.19 521.6,275.75 521.69,276.37 521.77,277.05 521.86,277.81 521.94,278.64 522.03,279.52 522.11,280.47 522.2,281.48 522.28,282.54 522.36,283.65 522.45,284.79 522.53,285.96 522.62,287.13 522.7,288.3 522.79,289.46 522.87,290.57 522.96,291.65 523.04,292.66 523.12,293.61 523.21,294.48 523.29,295.25 523.38,295.93 523.46,296.49 523.55,296.95 523.63,297.28 523.72,297.5 523.8,297.58 523.88,297.54 523.97,297.37 524.05,297.08 524.14,296.67 524.22,296.14 524.31,295.5 524.39,294.76 524.48,293.92 524.56,293 524.64,292.01 524.73,290.96 524.81,289.85 524.9,288.71 524.98,287.55 525.07,286.37 525.15,285.2 525.24,284.05 525.32,282.93 525.4,281.85 525.49,280.83 525.57,279.87 525.66,279 525.74,278.21 525.83,277.53 525.91,276.95 526,276.49 526.08,276.14 526.16,275.92 526.25,275.82 526.33,275.85 526.42,276.01 526.5,276.29 526.59,276.69 526.67,277.21 526.76,277.84 526.84,278.57 526.92,279.4 527.01,280.31 527.09,281.3 527.18,282.35 527.26,283.45 527.35,284.59 527.43,285.75 527.52,286.92 527.6,288.09 527.68,289.25 527.77,290.38 527.85,291.46 527.94,292.49 528.02,293.45 528.11,294.33 528.19,295.12 528.28,295.81 528.36,296.4 528.44,296.88 528.53,297.23 528.61,297.47 528.7,297.57 528.78,297.56 528.87,297.41 528.95,297.14 529.04,296.75 529.12,296.24 529.2,295.62 529.29,294.9 529.37,294.08 529.46,293.17 529.54,292.19 529.63,291.15 529.71,290.05 529.8,288.92 529.88,287.76 529.96,286.58 530.05,285.41 530.13,284.25 530.22,283.12 530.3,282.04 530.39,281 530.47,280.04 530.56,279.15 530.64,278.35 530.73,277.65 530.81,277.05 530.89,276.56 530.98,276.19 531.06,275.95 531.15,275.83 531.23,275.84 531.32,275.97 531.4,276.23 531.49,276.61 531.57,277.11 531.65,277.72 531.74,278.43 531.82,279.24 531.91,280.14 531.99,281.12 532.08,282.15 532.16,283.25 532.25,284.38 532.33,285.54 532.41,286.71 532.5,287.88 532.58,289.04 532.67,290.18 532.75,291.27 532.84,292.3 532.92,293.28 533.01,294.17 533.09,294.98 533.17,295.7 533.26,296.3 533.34,296.8 533.43,297.18 533.51,297.43 533.6,297.56 533.68,297.57 533.77,297.45 533.85,297.2 533.93,296.83 534.02,296.34 534.1,295.74 534.19,295.04 534.27,294.23 534.36,293.34 534.44,292.38 534.53,291.34 534.61,290.25 534.69,289.12 534.78,287.97 534.86,286.79 534.95,285.62 535.03,284.46 535.12,283.32 535.2,282.23 535.29,281.19 535.37,280.21 535.45,279.3 535.54,278.49 535.62,277.76 535.71,277.15 535.79,276.64 535.88,276.25 535.96,275.98 536.05,275.84 536.13,275.83 536.21,275.94 536.3,276.17 536.38,276.53 536.47,277.01 536.55,277.6 536.64,278.3 536.72,279.09 536.81,279.97 536.89,280.93 536.97,281.96 537.06,283.05 537.14,284.17 537.23,285.33 537.31,286.5 537.4,287.67 537.48,288.84 537.57,289.97 537.65,291.07 537.73,292.12 537.82,293.11 537.9,294.02 537.99,294.84 538.07,295.57 538.16,296.2 538.24,296.72 538.33,297.12 538.41,297.4 538.49,297.55 538.58,297.58 538.66,297.48 538.75,297.25 538.83,296.9 538.92,296.44 539,295.86 539.09,295.17 539.17,294.38 539.25,293.51 539.34,292.55 539.42,291.53 539.51,290.45 539.59,289.33 539.68,288.18 539.76,287.01 539.85,285.83 539.93,284.67 540.01,283.53 540.1,282.42 540.18,281.37 540.27,280.38 540.35,279.46 540.44,278.63 540.52,277.89 540.61,277.25 540.69,276.72 540.77,276.31 540.86,276.02 540.94,275.86 541.03,275.82 541.11,275.91 541.2,276.12 541.28,276.46 541.37,276.92 541.45,277.49 541.53,278.16 541.62,278.94 541.7,279.81 541.79,280.76 541.87,281.77 541.96,282.85 542.04,283.97 542.13,285.12 542.21,286.29 542.29,287.46 542.38,288.63 542.46,289.77 542.55,290.88 542.63,291.94 542.72,292.94 542.8,293.86 542.89,294.7 542.97,295.45 543.05,296.1 543.14,296.63 543.22,297.05 543.31,297.36 543.39,297.53 543.48,297.58 543.56,297.51 543.65,297.3 543.73,296.98 543.81,296.53 543.9,295.97 543.98,295.3 544.07,294.53 544.15,293.67 544.24,292.73 544.32,291.72 544.41,290.65 544.49,289.53 544.57,288.39 544.66,287.22 544.74,286.04 544.83,284.88 544.91,283.73 545,282.62 545.08,281.55 545.17,280.55 545.25,279.62 545.33,278.77 545.42,278.01 545.5,277.36 545.59,276.81 545.67,276.38 545.76,276.07 545.84,275.88 545.93,275.82 546.01,275.88 546.09,276.07 546.18,276.39 546.26,276.82 546.35,277.37 546.43,278.03 546.52,278.79 546.6,279.65 546.69,280.58 546.77,281.59 546.85,282.65 546.94,283.76 547.02,284.91 547.11,286.08 547.19,287.25 547.28,288.42 547.36,289.57 547.45,290.68 547.53,291.75 547.62,292.76 547.7,293.7 547.78,294.56 547.87,295.32 547.95,295.99 548.04,296.55 548.12,296.99 548.21,297.31 548.29,297.51 548.38,297.58 548.46,297.53 548.54,297.35 548.63,297.04 548.71,296.62 548.8,296.08 548.88,295.43 548.97,294.68 549.05,293.83 549.14,292.91 549.22,291.91 549.3,290.85 549.39,289.74 549.47,288.59 549.56,287.43 549.64,286.25 549.73,285.08 549.81,283.93 549.9,282.82 549.98,281.74 550.06,280.73 550.15,279.78 550.23,278.92 550.32,278.14 550.4,277.47 550.49,276.9 550.57,276.45 550.66,276.11 550.74,275.9 550.82,275.82 550.91,275.86 550.99,276.03 551.08,276.32 551.16,276.74 551.25,277.27 551.33,277.91 551.42,278.65 551.5,279.49 551.58,280.41 551.67,281.4 551.75,282.46 551.84,283.56 551.92,284.7 552.01,285.87 552.09,287.04 552.18,288.21 552.26,289.36 552.34,290.49 552.43,291.56 552.51,292.58 552.6,293.54 552.68,294.41 552.77,295.19 552.85,295.88 552.94,296.45 553.02,296.92 553.1,297.26 553.19,297.48 553.27,297.58 553.36,297.55 553.44,297.39 553.53,297.11 553.61,296.7 553.7,296.18 553.78,295.55 553.86,294.82 553.95,293.99 554.03,293.08 554.12,292.09 554.2,291.04 554.29,289.94 554.37,288.8 554.46,287.64 554.54,286.46 554.62,285.29 554.71,284.14 554.79,283.01 554.88,281.93 554.96,280.9 555.05,279.95 555.13,279.07 555.22,278.27 555.3,277.58 555.38,276.99 555.47,276.52 555.55,276.16 555.64,275.93 555.72,275.83 555.81,275.84 555.89,275.99 555.98,276.26 556.06,276.65 556.14,277.16 556.23,277.78 556.31,278.51 556.4,279.33 556.48,280.24 556.57,281.22 556.65,282.26 556.74,283.36 556.82,284.49 556.9,285.66 556.99,286.83 557.07,288 557.16,289.16 557.24,290.29 557.33,291.37 557.41,292.41 557.5,293.37 557.58,294.26 557.66,295.06 557.75,295.76 557.83,296.36 557.92,296.84 558,297.21 558.09,297.45 558.17,297.57 558.26,297.56 558.34,297.43 558.42,297.17 558.51,296.79 558.59,296.29 558.68,295.68 558.76,294.96 558.85,294.15 558.93,293.25 559.02,292.27 559.1,291.23 559.18,290.14 559.27,289.01 559.35,287.85 559.44,286.68 559.52,285.5 559.61,284.34 559.69,283.21 559.78,282.12 559.86,281.08 559.94,280.11 560.03,279.22 560.11,278.41 560.2,277.7 560.28,277.09 560.37,276.6 560.45,276.22 560.54,275.96 560.62,275.83 560.7,275.83 560.79,275.96 560.87,276.2 560.96,276.57 561.04,277.06 561.13,277.66 561.21,278.37 561.3,279.17 561.38,280.07 561.46,281.03 561.55,282.07 561.63,283.16 561.72,284.29 561.8,285.45 561.89,286.62 561.97,287.79 562.06,288.95 562.14,290.09 562.22,291.18 562.31,292.22 562.39,293.2 562.48,294.11 562.56,294.92 562.65,295.64 562.73,296.26 562.82,296.76 562.9,297.15 562.98,297.42 563.07,297.56 563.15,297.57 563.24,297.46 563.32,297.22 563.41,296.86 563.49,296.38 563.58,295.79 563.66,295.1 563.74,294.3 563.83,293.42 563.91,292.46 564,291.43 564.08,290.34 564.17,289.22 564.25,288.06 564.34,286.89 564.42,285.71 564.5,284.55 564.59,283.41 564.67,282.32 564.76,281.27 564.84,280.28 564.93,279.37 565.01,278.55 565.1,277.82 565.18,277.19 565.27,276.68 565.35,276.28 565.43,276 565.52,275.85 565.6,275.82 565.69,275.92 565.77,276.15 565.86,276.5 565.94,276.97 566.03,277.55 566.11,278.24 566.19,279.02 566.28,279.9 566.36,280.86 566.45,281.88 566.53,282.96 566.62,284.08 566.7,285.24 566.79,286.41 566.87,287.58 566.95,288.74 567.04,289.88 567.12,290.99 567.21,292.04 567.29,293.03 567.38,293.95 567.46,294.78 567.55,295.52 567.63,296.16 567.71,296.68 567.8,297.09 567.88,297.38 567.97,297.54 568.05,297.58 568.14,297.49 568.22,297.28 568.31,296.94 568.39,296.48 568.47,295.91 568.56,295.23 568.64,294.45 568.73,293.58 568.81,292.63 568.9,291.62 568.98,290.54 569.07,289.42 569.15,288.27 569.23,287.1 569.32,285.92 569.4,284.76 569.49,283.62 569.57,282.51 569.66,281.45 569.74,280.45 569.83,279.53 569.91,278.69 569.99,277.94 570.08,277.3 570.16,276.76 570.25,276.34 570.33,276.04 570.42,275.87 570.5,275.82 570.59,275.9 570.67,276.1 570.75,276.43 570.84,276.87 570.92,277.44 571.01,278.11 571.09,278.88 571.18,279.74 571.26,280.68 571.35,281.69 571.43,282.76 571.51,283.88 571.6,285.03 571.68,286.19 571.77,287.37 571.85,288.54 571.94,289.68 572.02,290.79 572.11,291.86 572.19,292.86 572.27,293.79 572.36,294.64 572.44,295.39 572.53,296.05 572.61,296.6 572.7,297.03 572.78,297.34 572.87,297.52 572.95,297.58 573.03,297.52 573.12,297.32 573.2,297.01 573.29,296.57 573.37,296.02 573.46,295.36 573.54,294.6 573.63,293.75 573.71,292.81 573.79,291.8 573.88,290.74 573.96,289.63 574.05,288.48 574.13,287.31 574.22,286.14 574.3,284.97 574.39,283.82 574.47,282.71 574.55,281.64 574.64,280.63 574.72,279.69 574.81,278.83 574.89,278.07 574.98,277.41 575.06,276.85 575.15,276.41 575.23,276.09 575.31,275.89 575.4,275.82 575.48,275.87 575.57,276.05 575.65,276.36 575.74,276.79 575.82,277.33 575.91,277.98 575.99,278.73 576.07,279.57 576.16,280.5 576.24,281.5 576.33,282.56 576.41,283.67 576.5,284.82 576.58,285.98 576.67,287.16 576.75,288.33 576.83,289.48 576.92,290.6 577,291.67 577.09,292.68 577.17,293.63 577.26,294.49 577.34,295.27 577.43,295.94 577.51,296.51 577.59,296.96 577.68,297.29 577.76,297.5 577.85,297.58 577.93,297.54 578.02,297.37 578.1,297.07 578.19,296.66 578.27,296.13 578.35,295.49 578.44,294.74 578.52,293.9 578.61,292.98 578.69,291.99 578.78,290.93 578.86,289.83 578.95,288.69 579.03,287.52 579.11,286.35 579.2,285.18 579.28,284.02 579.37,282.9 579.45,281.83 579.54,280.81 579.62,279.85 579.71,278.98 579.79,278.2 579.87,277.52 579.96,276.94 580.04,276.48 580.13,276.14 580.21,275.92 580.3,275.82 580.38,275.85 580.47,276.01 580.55,276.3 580.63,276.7 580.72,277.22 580.8,277.85 580.89,278.59 580.97,279.42 581.06,280.33 581.14,281.32 581.23,282.37 581.31,283.47 581.39,284.61 581.48,285.77 581.56,286.95 581.65,288.12 581.73,289.27 581.82,290.4 581.9,291.48 581.99,292.51 582.07,293.46 582.16,294.34 582.24,295.13 582.32,295.83 582.41,296.41 582.49,296.88 582.58,297.24 582.66,297.47 582.75,297.58 582.83,297.55 582.92,297.41 583,297.13 583.08,296.74 583.17,296.23 583.25,295.61 583.34,294.88 583.42,294.06 583.51,293.16 583.59,292.17 583.68,291.13 583.76,290.03 583.84,288.89 583.93,287.73 584.01,286.56 584.1,285.39 584.18,284.23 584.27,283.1 584.35,282.02 584.44,280.98 584.52,280.02 584.6,279.13 584.69,278.33 584.77,277.63 584.86,277.04 584.94,276.55 585.03,276.19 585.11,275.95 585.2,275.83 585.28,275.84 585.36,275.97 585.45,276.24 585.53,276.62 585.62,277.12 585.7,277.73 585.79,278.45 585.87,279.26 585.96,280.16 586.04,281.14 586.12,282.18 586.21,283.27 586.29,284.4 586.38,285.56 586.46,286.74 586.55,287.91 586.63,289.07 586.72,290.2 586.8,291.29 586.88,292.33 586.97,293.3 587.05,294.19 587.14,295 587.22,295.71 587.31,296.31 587.39,296.81 587.48,297.18 587.56,297.44 587.64,297.57 587.73,297.57 587.81,297.44 587.9,297.19 587.98,296.82 588.07,296.33 588.15,295.73 588.24,295.02 588.32,294.22 588.4,293.32 588.49,292.36 588.57,291.32 588.66,290.23 588.74,289.1 588.83,287.94 588.91,286.77 589,285.6 589.08,284.44 589.16,283.3 589.25,282.21 589.33,281.17 589.42,280.19 589.5,279.29 589.59,278.47 589.67,277.75 589.76,277.14 589.84,276.63 589.92,276.25 590.01,275.98 590.09,275.84 590.18,275.83 590.26,275.94 590.35,276.18 590.43,276.54 590.52,277.02 590.6,277.61 590.68,278.31 590.77,279.11 590.85,279.99 590.94,280.95 591.02,281.98 591.11,283.07 591.19,284.2 591.28,285.35 591.36,286.52 591.44,287.7 591.53,288.86 591.61,290 591.7,291.1 591.78,292.14 591.87,293.13 591.95,294.04 592.04,294.86 592.12,295.59 592.2,296.21 592.29,296.73 592.37,297.12 592.46,297.4 592.54,297.55 592.63,297.58 592.71,297.47 592.8,297.25 592.88,296.9 592.96,296.43 593.05,295.84 593.13,295.16 593.22,294.37 593.3,293.49 593.39,292.53 593.47,291.51 593.56,290.43 593.64,289.31 593.72,288.15 593.81,286.98 593.89,285.81 593.98,284.64 594.06,283.5 594.15,282.4 594.23,281.35 594.32,280.36 594.4,279.44 594.48,278.61 594.57,277.87 594.65,277.24 594.74,276.71 594.82,276.31 594.91,276.02 594.99,275.86 595.08,275.82 595.16,275.91 595.24,276.13 595.33,276.47 595.41,276.93 595.5,277.5 595.58,278.18 595.67,278.96 595.75,279.83 595.84,280.78 595.92,281.79 596,282.87 596.09,283.99 596.17,285.14 596.26,286.31 596.34,287.49 596.43,288.65 596.51,289.79 596.6,290.9 596.68,291.96 596.76,292.96 596.85,293.88 596.93,294.72 597.02,295.46 597.1,296.11 597.19,296.64 597.27,297.06 597.36,297.36 597.44,297.53 597.52,297.58 597.61,297.5 597.69,297.3 597.78,296.97 597.86,296.52 597.95,295.96 598.03,295.29 598.12,294.52 598.2,293.66 598.28,292.71 598.37,291.7 598.45,290.63 598.54,289.51 598.62,288.36 598.71,287.19 598.79,286.02 598.88,284.85 598.96,283.71 599.05,282.6 599.13,281.53 599.21,280.53 599.3,279.6 599.38,278.75 599.47,278 599.55,277.34 599.64,276.8 599.72,276.37 599.81,276.06 599.89,275.88 599.97,275.82 600.06,275.89 600.14,276.08 600.23,276.4 600.31,276.83 600.4,277.39 600.48,278.05 600.57,278.81 600.65,279.66 600.73,280.6 600.82,281.61 600.9,282.67 600.99,283.79 601.07,284.93 601.16,286.1 601.24,287.28 601.33,288.44 601.41,289.59 601.49,290.71 601.58,291.77 601.66,292.78 601.75,293.72 601.83,294.57 601.92,295.34 602,296 602.09,296.56 602.17,297 602.25,297.32 602.34,297.51 602.42,297.58 602.51,297.53 602.59,297.34 602.68,297.04 602.76,296.61 602.85,296.07 602.93,295.42 603.01,294.66 603.1,293.82 603.18,292.89 603.27,291.89 603.35,290.83 603.44,289.72 603.52,288.57 603.61,287.4 603.69,286.23 603.77,285.06 603.86,283.91 603.94,282.79 604.03,281.72 604.11,280.71 604.2,279.76 604.28,278.9 604.37,278.13 604.45,277.45 604.53,276.89 604.62,276.44 604.7,276.11 604.79,275.9 604.87,275.82 604.96,275.86 605.04,276.04 605.13,276.33 605.21,276.75 605.29,277.28 605.38,277.92 605.46,278.67 605.55,279.5 605.63,280.43 605.72,281.42 605.8,282.48 605.89,283.58 605.97,284.72 606.05,285.89 606.14,287.06 606.22,288.23 606.31,289.39 606.39,290.51 606.48,291.58 606.56,292.6 606.65,293.56 606.73,294.43 606.81,295.21 606.9,295.89 606.98,296.46 607.07,296.93 607.15,297.27 607.24,297.49 607.32,297.58 607.41,297.55 607.49,297.39 607.57,297.1 607.66,296.7 607.74,296.17 607.83,295.54 607.91,294.81 608,293.98 608.08,293.06 608.17,292.07 608.25,291.02 608.33,289.92 608.42,288.78 608.5,287.62 608.59,286.44 608.67,285.27 608.76,284.12 608.84,282.99 608.93,281.91 609.01,280.88 609.09,279.93 609.18,279.05 609.26,278.26 609.35,277.57 609.43,276.98 609.52,276.51 609.6,276.16 609.69,275.93 609.77,275.82 609.85,275.85 609.94,276 610.02,276.27 610.11,276.66 610.19,277.18 610.28,277.8 610.36,278.52 610.45,279.35 610.53,280.25 610.61,281.24 610.7,282.28 610.78,283.38 610.87,284.52 610.95,285.68 611.04,286.85 611.12,288.02 611.21,289.18 611.29,290.31 611.37,291.39 611.46,292.43 611.54,293.39 611.63,294.28 611.71,295.07 611.8,295.77 611.88,296.37 611.97,296.85 612.05,297.21 612.13,297.46 612.22,297.57 612.3,297.56 612.39,297.42 612.47,297.16 612.56,296.78 612.64,296.28 612.73,295.66 612.81,294.94 612.89,294.13 612.98,293.23 613.06,292.25 613.15,291.21 613.23,290.12 613.32,288.99 613.4,287.83 613.49,286.65 613.57,285.48 613.65,284.32 613.74,283.19 613.82,282.1 613.91,281.06 613.99,280.09 614.08,279.2 614.16,278.39 614.25,277.68 614.33,277.08 614.41,276.59 614.5,276.21 614.58,275.96 614.67,275.83 614.75,275.83 614.84,275.96 614.92,276.21 615.01,276.58 615.09,277.07 615.17,277.68 615.26,278.39 615.34,279.19 615.43,280.08 615.51,281.05 615.6,282.09 615.68,283.18 615.77,284.31 615.85,285.47 615.94,286.64 616.02,287.81 616.1,288.97 616.19,290.11 616.27,291.2 616.36,292.24 616.44,293.22 616.53,294.12 616.61,294.94 616.7,295.66 616.78,296.27 616.86,296.77 616.95,297.16 617.03,297.42 617.12,297.56 617.2,297.57 617.29,297.46 617.37,297.22 617.46,296.86 617.54,296.37 617.62,295.78 617.71,295.08 617.79,294.28 617.88,293.4 617.96,292.44 618.05,291.41 618.13,290.32 618.22,289.19 618.3,288.04 618.38,286.86 618.47,285.69 618.55,284.53 618.64,283.39 618.72,282.29 618.81,281.25 618.89,280.26 618.98,279.36 619.06,278.53 619.14,277.8 619.23,277.18 619.31,276.67 619.4,276.27 619.48,276 619.57,275.85 619.65,275.82 619.74,275.93 619.82,276.16 619.9,276.51 619.99,276.98 620.07,277.56 620.16,278.25 620.24,279.04 620.33,279.92 620.41,280.87 620.5,281.9 620.58,282.98 620.66,284.1 620.75,285.26 620.83,286.43 620.92,287.6 621,288.77 621.09,289.91 621.17,291.01 621.26,292.06 621.34,293.05 621.42,293.97 621.51,294.8 621.59,295.53 621.68,296.17 621.76,296.69 621.85,297.1 621.93,297.38 622.02,297.54 622.1,297.58 622.18,297.49 622.27,297.27 622.35,296.93 622.44,296.47 622.52,295.9 622.61,295.21 622.69,294.43 622.78,293.56 622.86,292.61 622.94,291.59 623.03,290.52 623.11,289.4 623.2,288.25 623.28,287.08 623.37,285.9 623.45,284.74 623.54,283.59 623.62,282.49 623.7,281.43 623.79,280.44 623.87,279.51 623.96,278.67 624.04,277.93 624.13,277.29 624.21,276.75 624.3,276.33 624.38,276.04 624.46,275.86 624.55,275.82 624.63,275.9 624.72,276.11 624.8,276.44 624.89,276.88 624.97,277.45 625.06,278.12 625.14,278.89 625.22,279.75 625.31,280.7 625.39,281.71 625.48,282.78 625.56,283.9 625.65,285.05 625.73,286.22 625.82,287.39 625.9,288.56 625.98,289.7 626.07,290.81 626.15,291.88 626.24,292.88 626.32,293.81 626.41,294.65 626.49,295.41 626.58,296.06 626.66,296.6 626.74,297.03 626.83,297.34 626.91,297.52 627,297.58 627.08,297.51 627.17,297.32 627.25,297 627.34,296.56 627.42,296.01 627.5,295.34 627.59,294.58 627.67,293.73 627.76,292.79 627.84,291.78 627.93,290.72 628.01,289.6 628.1,288.46 628.18,287.29 628.26,286.11 628.35,284.94 628.43,283.8 628.52,282.68 628.6,281.62 628.69,280.61 628.77,279.67 628.86,278.82 628.94,278.06 629.02,277.39 629.11,276.84 629.19,276.4 629.28,276.08 629.36,275.89 629.45,275.82 629.53,275.88 629.62,276.06 629.7,276.37 629.78,276.8 629.87,277.34 629.95,277.99 630.04,278.75 630.12,279.59 630.21,280.52 630.29,281.52 630.38,282.59 630.46,283.7 630.54,284.84 630.63,286.01 630.71,287.18 630.8,288.35 630.88,289.5 630.97,290.62 631.05,291.69 631.14,292.7 631.22,293.65 631.3,294.51 631.39,295.28 631.47,295.95 631.56,296.52 631.64,296.96 631.73,297.29 631.81,297.5 631.9,297.58 631.98,297.54 632.06,297.36 632.15,297.07 632.23,296.65 632.32,296.11 632.4,295.47 632.49,294.73 632.57,293.89 632.66,292.96 632.74,291.97 632.83,290.91 632.91,289.81 632.99,288.66 633.08,287.5 633.16,286.32 633.25,285.15 633.33,284 633.42,282.88 633.5,281.81 633.59,280.79 633.67,279.84 633.75,278.97 633.84,278.19 633.92,277.5 634.01,276.93 634.09,276.47 634.18,276.13 634.26,275.91 634.35,275.82 634.43,275.86 634.51,276.02 634.6,276.3 634.68,276.71 634.77,277.23 634.85,277.87 634.94,278.6 635.02,279.43 635.11,280.35 635.19,281.34 635.27,282.39 635.36,283.49 635.44,284.63 635.53,285.8 635.61,286.97 635.7,288.14 635.78,289.3 635.87,290.42 635.95,291.5 636.03,292.53 636.12,293.48 636.2,294.36 636.29,295.15 636.37,295.84 636.46,296.42 636.54,296.89 636.63,297.24 636.71,297.47 636.79,297.58 636.88,297.55 636.96,297.4 637.05,297.13 637.13,296.73 637.22,296.22 637.3,295.6 637.39,294.87 637.47,294.04 637.55,293.14 637.64,292.15 637.72,291.11 637.81,290.01 637.89,288.87 637.98,287.71 638.06,286.54 638.15,285.36 638.23,284.21 638.31,283.08 638.4,281.99 638.48,280.96 638.57,280 638.65,279.12 638.74,278.32 638.82,277.62 638.91,277.03 638.99,276.54 639.07,276.18 639.16,275.94 639.24,275.83 639.33,275.84 639.41,275.98 639.5,276.24 639.58,276.63 639.67,277.13 639.75,277.74 639.83,278.46 639.92,279.28 640,280.18 640.09,281.16 640.17,282.2 640.26,283.29 640.34,284.43 640.43,285.59 640.51,286.76 640.59,287.93 640.68,289.09 640.76,290.22 640.85,291.31 640.93,292.35 641.02,293.32 641.1,294.21 641.19,295.01 641.27,295.72 641.35,296.33 641.44,296.82 641.52,297.19 641.61,297.44 641.69,297.57 641.78,297.57 641.86,297.44 641.95,297.19 642.03,296.81 642.11,296.32 642.2,295.72 642.28,295.01 642.37,294.2 642.45,293.31 642.54,292.34 642.62,291.3 642.71,290.21 642.79,289.08 642.87,287.92 642.96,286.75 643.04,285.57 643.13,284.41 643.21,283.28 643.3,282.19 643.38,281.15 643.47,280.17 643.55,279.27 643.63,278.46 643.72,277.74 643.8,277.12 643.89,276.62 643.97,276.24 644.06,275.98 644.14,275.84 644.23,275.83 644.31,275.94 644.39,276.19 644.48,276.55 644.56,277.03 644.65,277.63 644.73,278.33 644.82,279.12 644.9,280.01 644.99,280.97 645.07,282.01 645.15,283.09 645.24,284.22 645.32,285.38 645.41,286.55 645.49,287.72 645.58,288.88 645.66,290.02 645.75,291.12 645.83,292.16 645.91,293.15 646,294.05 646.08,294.88 646.17,295.6 646.25,296.22 646.34,296.74 646.42,297.13 646.51,297.4 646.59,297.55 646.67,297.58 646.76,297.47 646.84,297.24 646.93,296.89 647.01,296.42 647.1,295.83 647.18,295.14 647.27,294.35 647.35,293.47 647.43,292.52 647.52,291.49 647.6,290.41 647.69,289.28 647.77,288.13 647.86,286.96 647.94,285.78 648.03,284.62 648.11,283.48 648.19,282.38 648.28,281.33 648.36,280.34 648.45,279.42 648.53,278.59 648.62,277.86 648.7,277.23 648.79,276.7 648.87,276.3 648.95,276.01 649.04,275.85 649.12,275.82 649.21,275.91 649.29,276.13 649.38,276.47 649.46,276.94 649.55,277.51 649.63,278.19 649.72,278.97 649.8,279.84 649.88,280.8 649.97,281.82 650.05,282.89 650.14,284.01 650.22,285.17 650.31,286.34 650.39,287.51 650.48,288.68 650.56,289.82 650.64,290.92 650.73,291.98 650.81,292.97 650.9,293.9 650.98,294.73 651.07,295.48 651.15,296.12 651.24,296.65 651.32,297.07 651.4,297.36 651.49,297.54 651.57,297.58 651.66,297.5 651.74,297.29 651.83,296.96 651.91,296.51 652,295.95 652.08,295.27 652.16,294.5 652.25,293.64 652.33,292.69 652.42,291.68 652.5,290.61 652.59,289.49 652.67,288.34 652.76,287.17 652.84,286 652.92,284.83 653.01,283.68 653.09,282.57 653.18,281.51 653.26,280.51 653.35,279.58 653.43,278.74 653.52,277.98 653.6,277.33 653.68,276.79 653.77,276.36 653.85,276.06 653.94,275.87 654.02,275.82 654.11,275.89 654.19,276.08 654.28,276.4 654.36,276.84 654.44,277.4 654.53,278.06 654.61,278.83 654.7,279.68 654.78,280.62 654.87,281.63 654.95,282.69 655.04,283.81 655.12,284.96 655.2,286.12 655.29,287.3 655.37,288.47 655.46,289.61 655.54,290.73 655.63,291.79 655.71,292.8 655.8,293.74 655.88,294.59 655.96,295.35 656.05,296.01 656.13,296.57 656.22,297 656.3,297.32 656.39,297.51 656.47,297.58 656.56,297.52 656.64,297.34 656.72,297.03 656.81,296.6 656.89,296.06 656.98,295.4 657.06,294.65 657.15,293.8 657.23,292.87 657.32,291.87 657.4,290.8"/>
<polyline fill="none" stroke="#0072BD" stroke-width="1.2" stroke-opacity="0.72" points="488.5,283 488.84,280.9 489.18,278.81 489.51,276.71 489.85,274.63 490.19,272.55 490.53,270.48 490.86,268.43 491.2,266.39 491.54,264.36 491.88,262.36 492.22,260.37 492.55,258.41 492.89,256.47 493.23,254.56 493.57,252.67 493.9,250.82 494.24,249 494.58,247.21 494.92,245.45 495.26,243.74 495.59,242.06 495.93,240.42 496.27,238.82 496.61,237.27 496.94,235.77 497.28,234.3 497.62,232.89 497.96,231.53 498.3,230.22 498.63,228.96 498.97,227.75 499.31,226.6 499.65,225.5 499.99,224.46 500.32,223.48 500.66,222.56 501,221.69 501.34,220.89 501.67,220.15 502.01,219.47 502.35,218.85 502.69,218.3 503.03,217.81 503.36,217.38 503.7,217.02 504.04,216.73 504.38,216.5 504.71,216.33 505.05,216.23 505.39,216.2 505.73,216.23 506.07,216.33 506.4,216.5 506.74,216.73 507.08,217.02 507.42,217.38 507.75,217.81 508.09,218.3 508.43,218.85 508.77,219.47 509.11,220.15 509.44,220.89 509.78,221.69 510.12,222.56 510.46,223.48 510.79,224.46 511.13,225.5 511.47,226.6 511.81,227.75 512.15,228.96 512.48,230.22 512.82,231.53 513.16,232.89 513.5,234.3 513.84,235.77 514.17,237.27 514.51,238.82 514.85,240.42 515.19,242.06 515.52,243.74 515.86,245.45 516.2,247.21 516.54,249 516.88,250.82 517.21,252.67 517.55,254.56 517.89,256.47 518.23,258.41 518.56,260.37 518.9,262.36 519.24,264.36 519.58,266.39 519.92,268.43 520.25,270.48 520.59,272.55 520.93,274.63 521.27,276.71 521.6,278.81 521.94,280.9 522.28,283 522.62,283 522.96,283 523.29,283 523.63,283 523.97,283 524.31,283 524.64,283 524.98,283 525.32,283 525.66,283 526,283 526.33,283 526.67,283 527.01,283 527.35,283 527.68,283 528.02,283 528.36,283 528.7,283 529.04,283 529.37,283 529.71,283 530.05,283 530.39,283 530.73,283 531.06,283 531.4,283 531.74,283 532.08,283 532.41,283 532.75,283 533.09,283 533.43,283 533.77,283 534.1,283 534.44,283 534.78,283 535.12,283 535.45,283 535.79,283 536.13,283 536.47,283 536.81,283 537.14,283 537.48,283 537.82,283 538.16,283 538.49,283 538.83,283 539.17,283 539.51,283 539.85,283 540.18,283 540.52,283 540.86,283 541.2,283 541.53,283 541.87,283 542.21,283 542.55,283 542.89,283 543.22,283 543.56,283 543.9,283 544.24,283 544.57,283 544.91,283 545.25,283 545.59,283 545.93,283 546.26,283 546.6,283 546.94,283 547.28,283 547.62,283 547.95,283 548.29,283 548.63,283 548.97,283 549.3,283 549.64,283 549.98,283 550.32,283 550.66,283 550.99,283 551.33,283 551.67,283 552.01,283 552.34,283 552.68,283 553.02,283 553.36,283 553.7,283 554.03,283 554.37,283 554.71,283 555.05,283 555.38,283 555.72,283 556.06,283 556.4,283 556.74,283 557.07,283 557.41,283 557.75,283 558.09,283 558.42,283 558.76,283 559.1,283 559.44,283 559.78,283 560.11,283 560.45,283 560.79,283 561.13,283 561.46,283 561.8,283 562.14,283 562.48,283 562.82,283 563.15,283 563.49,283 563.83,283 564.17,283 564.5,283 564.84,283 565.18,283 565.52,283 565.86,283 566.19,283 566.53,283 566.87,283 567.21,283 567.55,283 567.88,283 568.22,283 568.56,283 568.9,283 569.23,283 569.57,283 569.91,283 570.25,283 570.59,283 570.92,283 571.26,283 571.6,283 571.94,283 572.27,283 572.61,283 572.95,283 573.29,283 573.63,283 573.96,283 574.3,283 574.64,283 574.98,283 575.31,283 575.65,283 575.99,283 576.33,283 576.67,283 577,283 577.34,283 577.68,283 578.02,283 578.35,283 578.69,283 579.03,283 579.37,283 579.71,283 580.04,283 580.38,283 580.72,283 581.06,283 581.39,283 581.73,283 582.07,283 582.41,283 582.75,283 583.08,283 583.42,283 583.76,283 584.1,283 584.44,283 584.77,283 585.11,283 585.45,283 585.79,283 586.12,283 586.46,283 586.8,283 587.14,283 587.48,283 587.81,283 588.15,283 588.49,283 588.83,283 589.16,283 589.5,283 589.84,283 590.18,283 590.52,283 590.85,283 591.19,283 591.53,283 591.87,283 592.2,283 592.54,283 592.88,283 593.22,283 593.56,283 593.89,283 594.23,283 594.57,283 594.91,283 595.24,283 595.58,283 595.92,283 596.26,283 596.6,283 596.93,283 597.27,283 597.61,283 597.95,283 598.28,283 598.62,283 598.96,283 599.3,283 599.64,283 599.97,283 600.31,283 600.65,283 600.99,283 601.33,283 601.66,283 602,283 602.34,283 602.68,283 603.01,283 603.35,283 603.69,283 604.03,283 604.37,283 604.7,283 605.04,283 605.38,283 605.72,283 606.05,283 606.39,283 606.73,283 607.07,283 607.41,283 607.74,283 608.08,283 608.42,283 608.76,283 609.09,283 609.43,283 609.77,283 610.11,283 610.45,283 610.78,283 611.12,283 611.46,283 611.8,283 612.13,283 612.47,283 612.81,283 613.15,283 613.49,283 613.82,283 614.16,283 614.5,283 614.84,283 615.17,283 615.51,283 615.85,283 616.19,283 616.53,283 616.86,283 617.2,283 617.54,283 617.88,283 618.22,283 618.55,283 618.89,283 619.23,283 619.57,283 619.9,283 620.24,283 620.58,283 620.92,283 621.26,283 621.59,283 621.93,283 622.27,283 622.61,283 622.94,283 623.28,283 623.62,283 623.96,283 624.3,283 624.63,283 624.97,283 625.31,283 625.65,283 625.98,283 626.32,283 626.66,283 627,283 627.34,283 627.67,283 628.01,283 628.35,283 628.69,283 629.02,283 629.36,283 629.7,283 630.04,283 630.38,283 630.71,283 631.05,283 631.39,283 631.73,283 632.06,283 632.4,283 632.74,283 633.08,283 633.42,283 633.75,283 634.09,283 634.43,283 634.77,283 635.11,283 635.44,283 635.78,283 636.12,283 636.46,283 636.79,283 637.13,283 637.47,283 637.81,283 638.15,283 638.48,283 638.82,283 639.16,283 639.5,283 639.83,283 640.17,283 640.51,283 640.85,283 641.19,283 641.52,283 641.86,283 642.2,283 642.54,283 642.87,283 643.21,283 643.55,283 643.89,283 644.23,283 644.56,283 644.9,283 645.24,283 645.58,283 645.91,283 646.25,283 646.59,283 646.93,283 647.27,283 647.6,283 647.94,283 648.28,283 648.62,283 648.95,283 649.29,283 649.63,283 649.97,283 650.31,283 650.64,283 650.98,283 651.32,283 651.66,283 652,283 652.33,283 652.67,283 653.01,283 653.35,283 653.68,283 654.02,283 654.36,283 654.7,283 655.04,283 655.37,283 655.71,283 656.05,283 656.39,283 656.72,283 657.06,283 657.4,283"/>
</g>
<line x1="488.5" y1="190.6" x2="657.4" y2="190.6" stroke="#777" stroke-width="1.3"/>
<line x1="488.5" y1="318.9" x2="657.4" y2="318.9" stroke="#555" stroke-width="1.3"/>
<line x1="488.5" y1="318.9" x2="488.5" y2="316.7" stroke="#555" stroke-width="1.1"/>
<line x1="488.5" y1="190.6" x2="488.5" y2="192.79999999999998" stroke="#555" stroke-width="1.1"/>
<text x="488.5" y="332.5" font-size="10.5" text-anchor="middle" fill="#262626">0</text>
<line x1="530.73" y1="318.9" x2="530.73" y2="316.7" stroke="#555" stroke-width="1.1"/>
<line x1="530.73" y1="190.6" x2="530.73" y2="192.79999999999998" stroke="#555" stroke-width="1.1"/>
<text x="530.73" y="332.5" font-size="10.5" text-anchor="middle" fill="#262626">5</text>
<line x1="572.95" y1="318.9" x2="572.95" y2="316.7" stroke="#555" stroke-width="1.1"/>
<line x1="572.95" y1="190.6" x2="572.95" y2="192.79999999999998" stroke="#555" stroke-width="1.1"/>
<text x="572.95" y="332.5" font-size="10.5" text-anchor="middle" fill="#262626">10</text>
<line x1="615.17" y1="318.9" x2="615.17" y2="316.7" stroke="#555" stroke-width="1.1"/>
<line x1="615.17" y1="190.6" x2="615.17" y2="192.79999999999998" stroke="#555" stroke-width="1.1"/>
<text x="615.17" y="332.5" font-size="10.5" text-anchor="middle" fill="#262626">15</text>
<line x1="657.4" y1="318.9" x2="657.4" y2="316.7" stroke="#555" stroke-width="1.1"/>
<line x1="657.4" y1="190.6" x2="657.4" y2="192.79999999999998" stroke="#555" stroke-width="1.1"/>
<text x="657.4" y="332.5" font-size="10.5" text-anchor="middle" fill="#262626">20</text>
<line x1="488.5" y1="190.0" x2="488.5" y2="319.5" stroke="#0072BD" stroke-opacity="0.85" stroke-width="1.3"/>
<line x1="657.4" y1="190.0" x2="657.4" y2="319.5" stroke="#D95319" stroke-opacity="0.85" stroke-width="1.3"/>
<line x1="488.5" y1="207" x2="490.8" y2="207" stroke="#0072BD" stroke-width="1.1"/>
<text x="485.2" y="211.4" font-size="10.5" text-anchor="end" fill="#0072BD">40</text>
<line x1="488.5" y1="226" x2="490.8" y2="226" stroke="#0072BD" stroke-width="1.1"/>
<text x="485.2" y="230.4" font-size="10.5" text-anchor="end" fill="#0072BD">30</text>
<line x1="488.5" y1="245" x2="490.8" y2="245" stroke="#0072BD" stroke-width="1.1"/>
<text x="485.2" y="249.4" font-size="10.5" text-anchor="end" fill="#0072BD">20</text>
<line x1="488.5" y1="264" x2="490.8" y2="264" stroke="#0072BD" stroke-width="1.1"/>
<text x="485.2" y="268.4" font-size="10.5" text-anchor="end" fill="#0072BD">10</text>
<line x1="488.5" y1="283" x2="490.8" y2="283" stroke="#0072BD" stroke-width="1.1"/>
<text x="485.2" y="287.4" font-size="10.5" text-anchor="end" fill="#0072BD">0</text>
<line x1="488.5" y1="302" x2="490.8" y2="302" stroke="#0072BD" stroke-width="1.1"/>
<text x="485.2" y="306.4" font-size="10.5" text-anchor="end" fill="#0072BD">-10</text>
<line x1="657.4" y1="203.96" x2="655.1" y2="203.96" stroke="#D95319" stroke-width="1.1"/>
<text x="660.6" y="208.36" font-size="10.5" fill="#D95319">3</text>
<line x1="657.4" y1="231.54" x2="655.1" y2="231.54" stroke="#D95319" stroke-width="1.1"/>
<text x="660.6" y="235.94" font-size="10.5" fill="#D95319">2</text>
<line x1="657.4" y1="259.12" x2="655.1" y2="259.12" stroke="#D95319" stroke-width="1.1"/>
<text x="660.6" y="263.52" font-size="10.5" fill="#D95319">1</text>
<line x1="657.4" y1="286.7" x2="655.1" y2="286.7" stroke="#D95319" stroke-width="1.1"/>
<text x="660.6" y="291.1" font-size="10.5" fill="#D95319">0</text>
<line x1="657.4" y1="314.28" x2="655.1" y2="314.28" stroke="#D95319" stroke-width="1.1"/>
<text x="660.6" y="318.68" font-size="10.5" fill="#D95319">-1</text>
<text x="572.95" y="346" font-size="10.8" text-anchor="middle" fill="#262626">Time (ms)</text>
<text transform="translate(466.1,291.7) rotate(-90)" font-family='"Liberation Serif", serif' font-size="11.4" fill="#0072BD">Acceleration</text>
<text transform="translate(466.1,230.8) rotate(-90)" font-family='"Liberation Serif", serif' font-size="11.4" fill="#0072BD">(<tspan font-style="italic">g</tspan>)</text>
<text transform="translate(682.1,254) rotate(-90)" font-size="10.4" text-anchor="middle" fill="#D95319">Displacement (µm)</text>
<text x="493.3" y="199.2" font-size="9.8" font-weight="bold" fill="#000">Case B</text>
</svg>
</body></html>
